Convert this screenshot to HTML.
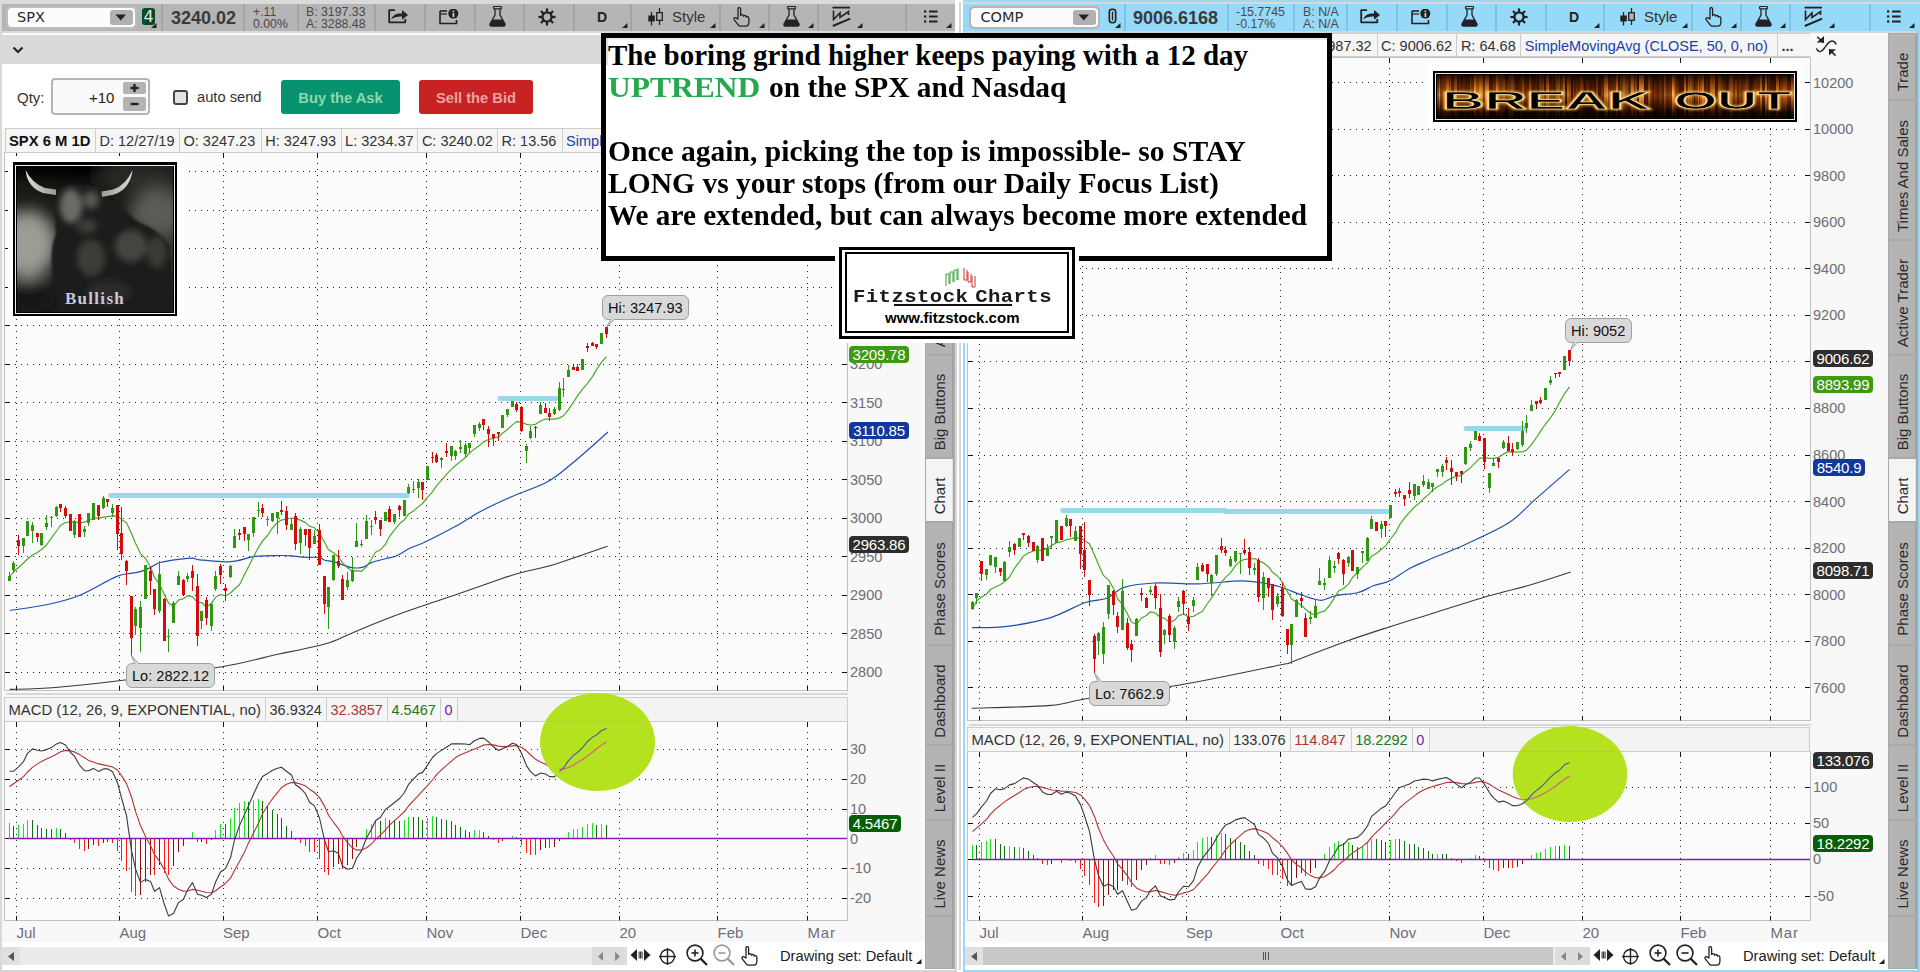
<!DOCTYPE html><html><head><meta charset="utf-8"><style>html,body{margin:0;padding:0;width:1920px;height:972px;overflow:hidden;background:#dadada;position:relative;font-family:"Liberation Sans", Arial, sans-serif;color:#333}div{box-sizing:border-box}</style></head><body>
<div style="position:absolute;left:0px;top:0px;width:957px;height:972px;background:#dadada"></div>
<div style="position:absolute;left:2px;top:4px;width:953px;height:27px;background:#b5b5b5"></div>
<div style="position:absolute;left:161px;top:4px;width:2px;height:27px;background:#a4a4a4"></div>
<div style="position:absolute;left:243px;top:4px;width:2px;height:27px;background:#a4a4a4"></div>
<div style="position:absolute;left:297px;top:4px;width:2px;height:27px;background:#a4a4a4"></div>
<div style="position:absolute;left:374px;top:4px;width:2px;height:27px;background:#a4a4a4"></div>
<div style="position:absolute;left:424px;top:4px;width:2px;height:27px;background:#a4a4a4"></div>
<div style="position:absolute;left:474px;top:4px;width:2px;height:27px;background:#a4a4a4"></div>
<div style="position:absolute;left:523px;top:4px;width:2px;height:27px;background:#a4a4a4"></div>
<div style="position:absolute;left:573px;top:4px;width:2px;height:27px;background:#a4a4a4"></div>
<div style="position:absolute;left:630px;top:4px;width:2px;height:27px;background:#a4a4a4"></div>
<div style="position:absolute;left:719px;top:4px;width:2px;height:27px;background:#a4a4a4"></div>
<div style="position:absolute;left:768px;top:4px;width:2px;height:27px;background:#a4a4a4"></div>
<div style="position:absolute;left:817px;top:4px;width:2px;height:27px;background:#a4a4a4"></div>
<div style="position:absolute;left:905px;top:4px;width:2px;height:27px;background:#a4a4a4"></div>
<div style="position:absolute;left:6px;top:6px;width:131px;height:23px;background:#bdbdbd;border-radius:5px"></div>
<div style="position:absolute;left:8px;top:8px;width:127px;height:19px;background:#fcfcfc;border-radius:4px"></div>
<div style="position:absolute;left:17px;top:8px;white-space:nowrap;font-family:'DejaVu Sans',sans-serif;font-size:14.5px;line-height:19px;color:#2a2a2a">SPX</div>
<div style="position:absolute;left:110px;top:10px;width:23px;height:15px;background:#b0b0b0;border-radius:3px"></div>
<svg style="position:absolute;left:115px;top:14px;" width="12" height="7" viewBox="0 0 12 7"><path d="M0.5 0.5 H11 L5.75 6.5 Z" fill="#222"/></svg>
<div style="position:absolute;left:142px;top:8px;width:13px;height:17px;background:#064a27;border-radius:3px"></div>
<div style="position:absolute;left:142px;top:8px;white-space:nowrap;width:13px;text-align:center;font-size:16px;line-height:18px;color:#e8e8e8;font-family:'DejaVu Sans',sans-serif">4</div>
<svg style="position:absolute;left:151px;top:23px;" width="6" height="5" viewBox="0 0 6 5"><path d="M5.5 0 V5 H0 Z" fill="#222"/></svg>
<div style="position:absolute;left:171px;top:7px;white-space:nowrap;font-size:18px;font-weight:bold;color:#3a3a3a;line-height:22px">3240.02</div>
<div style="position:absolute;left:253px;top:6px;white-space:nowrap;font-size:12.3px;line-height:12px;color:#4a4a4a">+.11<br>0.00%</div>
<div style="position:absolute;left:306px;top:6px;white-space:nowrap;font-size:12.3px;line-height:12px;color:#4a4a4a">B: 3197.33<br>A: 3288.48</div>
<svg style="position:absolute;left:388px;top:9px;" width="22" height="16" viewBox="0 0 22 16"><path d="M7 1.2 H1.2 V13.3 H17.3 V10" fill="none" stroke="#222" stroke-width="1.8" stroke-linejoin="round"/><path d="M3 10.5 C5 5.5 9 4.2 14 4.5 V1 L20 6 L14 10.8 V7.5 C10 7.2 6 8 3 10.5 Z" fill="#222"/></svg>
<svg style="position:absolute;left:439px;top:9px;" width="20" height="16" viewBox="0 0 20 16"><path d="M1 2 V14.5 H17.5 V11" fill="none" stroke="#222" stroke-width="1.6"/><path d="M1 2 H8" stroke="#222" stroke-width="1.6"/><path d="M1 5 H8" stroke="#222" stroke-width="1.2"/><circle cx="14.3" cy="4.6" r="5" fill="#222"/><rect x="13.6" y="4" width="1.6" height="4" fill="#ddd"/><rect x="13.6" y="1.6" width="1.6" height="1.5" fill="#ddd"/></svg>
<svg style="position:absolute;left:489px;top:6px;" width="17" height="21" viewBox="0 0 17 21"><rect x="4.5" y="0.5" width="8" height="2.4" rx="1" fill="none" stroke="#222" stroke-width="1.2"/><path d="M6 3 V9 L1 18 Q0.5 20 2.5 20 H14.5 Q16.5 20 16 18 L11 9 V3" fill="none" stroke="#222" stroke-width="1.3"/><path d="M3.6 13.5 H13.4 L16 18 Q16.5 20 14.5 20 H2.5 Q0.5 20 1 18 Z" fill="#222"/></svg>
<svg style="position:absolute;left:538px;top:8px;" width="18" height="18" viewBox="0 0 18 18"><line x1="13.00" y1="9.00" x2="17.60" y2="9.00" stroke="#222" stroke-width="2.2"/><line x1="11.83" y1="11.83" x2="15.08" y2="15.08" stroke="#222" stroke-width="2.2"/><line x1="9.00" y1="13.00" x2="9.00" y2="17.60" stroke="#222" stroke-width="2.2"/><line x1="6.17" y1="11.83" x2="2.92" y2="15.08" stroke="#222" stroke-width="2.2"/><line x1="5.00" y1="9.00" x2="0.40" y2="9.00" stroke="#222" stroke-width="2.2"/><line x1="6.17" y1="6.17" x2="2.92" y2="2.92" stroke="#222" stroke-width="2.2"/><line x1="9.00" y1="5.00" x2="9.00" y2="0.40" stroke="#222" stroke-width="2.2"/><line x1="11.83" y1="6.17" x2="15.08" y2="2.92" stroke="#222" stroke-width="2.2"/><circle cx="9" cy="9" r="4.6" fill="none" stroke="#222" stroke-width="2.4"/></svg>
<div style="position:absolute;left:597px;top:8px;white-space:nowrap;font-size:14px;font-weight:bold;color:#222;line-height:18px">D</div>
<svg style="position:absolute;left:622px;top:23px;" width="6" height="5" viewBox="0 0 6 5"><path d="M5.5 0 V5 H0 Z" fill="#222"/></svg>
<svg style="position:absolute;left:648px;top:8px;" width="15" height="18" viewBox="0 0 15 18"><line x1="3.5" y1="4" x2="3.5" y2="17.5" stroke="#222" stroke-width="1.3"/><rect x="0.3" y="7.5" width="6.5" height="6" fill="#222"/><line x1="11.5" y1="0" x2="11.5" y2="17" stroke="#222" stroke-width="1.3"/><rect x="8.7" y="4.7" width="5.6" height="7.6" fill="#b5b5b5" stroke="#222" stroke-width="1.3"/></svg>
<div style="position:absolute;left:672px;top:7px;white-space:nowrap;font-size:15px;color:#333;line-height:19px">Style</div>
<svg style="position:absolute;left:710px;top:23px;" width="6" height="5" viewBox="0 0 6 5"><path d="M5.5 0 V5 H0 Z" fill="#222"/></svg>
<svg style="position:absolute;left:733px;top:7px;" width="17" height="20" viewBox="0 0 17 20"><path d="M5 12 V2.2 Q5 0.6 6.3 0.6 Q7.6 0.6 7.6 2.2 V8.6 Q8 7.4 9.3 7.6 Q10.5 7.8 10.5 9.3 Q11 8.3 12.2 8.5 Q13.3 8.8 13.3 10.2 Q13.8 9.4 14.8 9.7 Q15.9 10.1 15.9 11.8 V15 Q15.9 19.2 12.5 19.2 H7.6 Q6 19.2 5 17.6 L1.3 12.8 Q0.5 11.6 1.6 10.9 Q2.7 10.3 3.6 11.3 Z" fill="none" stroke="#222" stroke-width="1.3" stroke-linejoin="round"/></svg>
<svg style="position:absolute;left:759px;top:23px;" width="6" height="5" viewBox="0 0 6 5"><path d="M5.5 0 V5 H0 Z" fill="#222"/></svg>
<svg style="position:absolute;left:783px;top:6px;" width="17" height="21" viewBox="0 0 17 21"><rect x="4.5" y="0.5" width="8" height="2.4" rx="1" fill="none" stroke="#222" stroke-width="1.2"/><path d="M6 3 V9 L1 18 Q0.5 20 2.5 20 H14.5 Q16.5 20 16 18 L11 9 V3" fill="none" stroke="#222" stroke-width="1.3"/><path d="M3.6 13.5 H13.4 L16 18 Q16.5 20 14.5 20 H2.5 Q0.5 20 1 18 Z" fill="#222"/></svg>
<svg style="position:absolute;left:808px;top:23px;" width="6" height="5" viewBox="0 0 6 5"><path d="M5.5 0 V5 H0 Z" fill="#222"/></svg>
<svg style="position:absolute;left:832px;top:6px;" width="19" height="21" viewBox="0 0 19 21"><line x1="0.5" y1="1.6" x2="18" y2="1.6" stroke="#222" stroke-width="1.8"/><path d="M1.5 4.5 V13.5 L8 7 V11.5 L16.5 5.5 V9" fill="none" stroke="#222" stroke-width="1.6"/><line x1="0.8" y1="20" x2="18.2" y2="12.7" stroke="#222" stroke-width="2"/></svg>
<svg style="position:absolute;left:857px;top:23px;" width="6" height="5" viewBox="0 0 6 5"><path d="M5.5 0 V5 H0 Z" fill="#222"/></svg>
<svg style="position:absolute;left:924px;top:10px;" width="14" height="13" viewBox="0 0 14 13"><rect x="0" y="0.3999999999999999" width="2.3" height="2.2" fill="#222"/><rect x="5" y="0.5" width="8.6" height="2" fill="#222"/><rect x="0" y="5.4" width="2.3" height="2.2" fill="#222"/><rect x="5" y="5.5" width="8.6" height="2" fill="#222"/><rect x="0" y="10.4" width="2.3" height="2.2" fill="#222"/><rect x="5" y="10.5" width="8.6" height="2" fill="#222"/></svg>
<svg style="position:absolute;left:946px;top:23px;" width="6" height="5" viewBox="0 0 6 5"><path d="M5.5 0 V5 H0 Z" fill="#222"/></svg>
<div style="position:absolute;left:2px;top:33px;width:955px;height:2px;background:#fafafa"></div>
<svg style="position:absolute;left:12px;top:46px;" width="12" height="8" viewBox="0 0 12 8"><path d="M1.5 1.5 L6 6 L10.5 1.5" fill="none" stroke="#222" stroke-width="2.2"/></svg>
<div style="position:absolute;left:2px;top:64px;width:955px;height:906px;background:#ffffff"></div>
<div style="position:absolute;left:2px;top:128px;width:923px;height:817px;background:#f8f8f8"></div>
<div style="position:absolute;left:955px;top:0px;width:8px;height:972px;background:#ffffff"></div>
<div style="position:absolute;left:955px;top:33px;width:2px;height:937px;background:#d6d6d6"></div>
<div style="position:absolute;left:959px;top:2px;width:2px;height:968px;background:#d6d6d6"></div>
<div style="position:absolute;left:963px;top:0px;width:957px;height:972px;background:#97d9f8"></div>
<div style="position:absolute;left:963px;top:2px;width:957px;height:1.5px;background:#dbd7d3"></div>
<div style="position:absolute;left:1124px;top:4px;width:2px;height:27px;background:#7fc3e0"></div>
<div style="position:absolute;left:1227px;top:4px;width:2px;height:27px;background:#7fc3e0"></div>
<div style="position:absolute;left:1293px;top:4px;width:2px;height:27px;background:#7fc3e0"></div>
<div style="position:absolute;left:1346px;top:4px;width:2px;height:27px;background:#7fc3e0"></div>
<div style="position:absolute;left:1396px;top:4px;width:2px;height:27px;background:#7fc3e0"></div>
<div style="position:absolute;left:1446px;top:4px;width:2px;height:27px;background:#7fc3e0"></div>
<div style="position:absolute;left:1495px;top:4px;width:2px;height:27px;background:#7fc3e0"></div>
<div style="position:absolute;left:1545px;top:4px;width:2px;height:27px;background:#7fc3e0"></div>
<div style="position:absolute;left:1603px;top:4px;width:2px;height:27px;background:#7fc3e0"></div>
<div style="position:absolute;left:1691px;top:4px;width:2px;height:27px;background:#7fc3e0"></div>
<div style="position:absolute;left:1740px;top:4px;width:2px;height:27px;background:#7fc3e0"></div>
<div style="position:absolute;left:1789px;top:4px;width:2px;height:27px;background:#7fc3e0"></div>
<div style="position:absolute;left:1869px;top:4px;width:2px;height:27px;background:#7fc3e0"></div>
<div style="position:absolute;left:965px;top:31px;width:952px;height:2px;background:#d9d5d1"></div>
<div style="position:absolute;left:965px;top:33px;width:952px;height:937px;background:#ffffff"></div>
<div style="position:absolute;left:965px;top:33px;width:923px;height:912px;background:#f8f8f8"></div>
<div style="position:absolute;left:969px;top:6px;width:131px;height:23px;background:#b6b3b0;border-radius:5px"></div>
<div style="position:absolute;left:971px;top:8px;width:127px;height:19px;background:#fcfcfc;border-radius:4px"></div>
<div style="position:absolute;left:980.5px;top:8px;white-space:nowrap;font-family:'DejaVu Sans',sans-serif;font-size:14.5px;line-height:19px;color:#2a2a2a">COMP</div>
<div style="position:absolute;left:1073px;top:10px;width:23px;height:15px;background:#b0b0b0;border-radius:3px"></div>
<svg style="position:absolute;left:1078px;top:14px;" width="12" height="7" viewBox="0 0 12 7"><path d="M0.5 0.5 H11 L5.75 6.5 Z" fill="#222"/></svg>
<svg style="position:absolute;left:1108px;top:8px;" width="9" height="16" viewBox="0 0 9 16"><rect x="1.3" y="1.3" width="6.4" height="13.4" rx="2.6" fill="#a8c8e4" stroke="#222" stroke-width="1.6"/><line x1="4.5" y1="3.5" x2="4.5" y2="12.5" stroke="#222" stroke-width="1.3"/></svg>
<svg style="position:absolute;left:1115px;top:23px;" width="6" height="5" viewBox="0 0 6 5"><path d="M5.5 0 V5 H0 Z" fill="#222"/></svg>
<div style="position:absolute;left:1133px;top:6px;white-space:nowrap;font-size:18px;font-weight:bold;color:#3a3a3a;line-height:24px">9006.6168</div>
<div style="position:absolute;left:1236px;top:6px;white-space:nowrap;font-size:12.4px;line-height:12px;color:#4a4a4a">-15.7745<br>-0.17%</div>
<div style="position:absolute;left:1303px;top:6px;white-space:nowrap;font-size:12.4px;line-height:12px;color:#4a4a4a">B: N/A<br>A: N/A</div>
<svg style="position:absolute;left:1360px;top:9px;" width="22" height="16" viewBox="0 0 22 16"><path d="M7 1.2 H1.2 V13.3 H17.3 V10" fill="none" stroke="#222" stroke-width="1.8" stroke-linejoin="round"/><path d="M3 10.5 C5 5.5 9 4.2 14 4.5 V1 L20 6 L14 10.8 V7.5 C10 7.2 6 8 3 10.5 Z" fill="#222"/></svg>
<svg style="position:absolute;left:1411px;top:9px;" width="20" height="16" viewBox="0 0 20 16"><path d="M1 2 V14.5 H17.5 V11" fill="none" stroke="#222" stroke-width="1.6"/><path d="M1 2 H8" stroke="#222" stroke-width="1.6"/><path d="M1 5 H8" stroke="#222" stroke-width="1.2"/><circle cx="14.3" cy="4.6" r="5" fill="#222"/><rect x="13.6" y="4" width="1.6" height="4" fill="#ddd"/><rect x="13.6" y="1.6" width="1.6" height="1.5" fill="#ddd"/></svg>
<svg style="position:absolute;left:1461px;top:6px;" width="17" height="21" viewBox="0 0 17 21"><rect x="4.5" y="0.5" width="8" height="2.4" rx="1" fill="none" stroke="#222" stroke-width="1.2"/><path d="M6 3 V9 L1 18 Q0.5 20 2.5 20 H14.5 Q16.5 20 16 18 L11 9 V3" fill="none" stroke="#222" stroke-width="1.3"/><path d="M3.6 13.5 H13.4 L16 18 Q16.5 20 14.5 20 H2.5 Q0.5 20 1 18 Z" fill="#222"/></svg>
<svg style="position:absolute;left:1510px;top:8px;" width="18" height="18" viewBox="0 0 18 18"><line x1="13.00" y1="9.00" x2="17.60" y2="9.00" stroke="#222" stroke-width="2.2"/><line x1="11.83" y1="11.83" x2="15.08" y2="15.08" stroke="#222" stroke-width="2.2"/><line x1="9.00" y1="13.00" x2="9.00" y2="17.60" stroke="#222" stroke-width="2.2"/><line x1="6.17" y1="11.83" x2="2.92" y2="15.08" stroke="#222" stroke-width="2.2"/><line x1="5.00" y1="9.00" x2="0.40" y2="9.00" stroke="#222" stroke-width="2.2"/><line x1="6.17" y1="6.17" x2="2.92" y2="2.92" stroke="#222" stroke-width="2.2"/><line x1="9.00" y1="5.00" x2="9.00" y2="0.40" stroke="#222" stroke-width="2.2"/><line x1="11.83" y1="6.17" x2="15.08" y2="2.92" stroke="#222" stroke-width="2.2"/><circle cx="9" cy="9" r="4.6" fill="none" stroke="#222" stroke-width="2.4"/></svg>
<div style="position:absolute;left:1569px;top:8px;white-space:nowrap;font-size:14px;font-weight:bold;color:#222;line-height:18px">D</div>
<svg style="position:absolute;left:1594px;top:23px;" width="6" height="5" viewBox="0 0 6 5"><path d="M5.5 0 V5 H0 Z" fill="#222"/></svg>
<svg style="position:absolute;left:1620px;top:8px;" width="15" height="18" viewBox="0 0 15 18"><line x1="3.5" y1="4" x2="3.5" y2="17.5" stroke="#222" stroke-width="1.3"/><rect x="0.3" y="7.5" width="6.5" height="6" fill="#222"/><line x1="11.5" y1="0" x2="11.5" y2="17" stroke="#222" stroke-width="1.3"/><rect x="8.7" y="4.7" width="5.6" height="7.6" fill="#b5b5b5" stroke="#222" stroke-width="1.3"/></svg>
<div style="position:absolute;left:1644px;top:7px;white-space:nowrap;font-size:15px;color:#333;line-height:19px">Style</div>
<svg style="position:absolute;left:1682px;top:23px;" width="6" height="5" viewBox="0 0 6 5"><path d="M5.5 0 V5 H0 Z" fill="#222"/></svg>
<svg style="position:absolute;left:1705px;top:7px;" width="17" height="20" viewBox="0 0 17 20"><path d="M5 12 V2.2 Q5 0.6 6.3 0.6 Q7.6 0.6 7.6 2.2 V8.6 Q8 7.4 9.3 7.6 Q10.5 7.8 10.5 9.3 Q11 8.3 12.2 8.5 Q13.3 8.8 13.3 10.2 Q13.8 9.4 14.8 9.7 Q15.9 10.1 15.9 11.8 V15 Q15.9 19.2 12.5 19.2 H7.6 Q6 19.2 5 17.6 L1.3 12.8 Q0.5 11.6 1.6 10.9 Q2.7 10.3 3.6 11.3 Z" fill="none" stroke="#222" stroke-width="1.3" stroke-linejoin="round"/></svg>
<svg style="position:absolute;left:1731px;top:23px;" width="6" height="5" viewBox="0 0 6 5"><path d="M5.5 0 V5 H0 Z" fill="#222"/></svg>
<svg style="position:absolute;left:1755px;top:6px;" width="17" height="21" viewBox="0 0 17 21"><rect x="4.5" y="0.5" width="8" height="2.4" rx="1" fill="none" stroke="#222" stroke-width="1.2"/><path d="M6 3 V9 L1 18 Q0.5 20 2.5 20 H14.5 Q16.5 20 16 18 L11 9 V3" fill="none" stroke="#222" stroke-width="1.3"/><path d="M3.6 13.5 H13.4 L16 18 Q16.5 20 14.5 20 H2.5 Q0.5 20 1 18 Z" fill="#222"/></svg>
<svg style="position:absolute;left:1780px;top:23px;" width="6" height="5" viewBox="0 0 6 5"><path d="M5.5 0 V5 H0 Z" fill="#222"/></svg>
<svg style="position:absolute;left:1804px;top:6px;" width="19" height="21" viewBox="0 0 19 21"><line x1="0.5" y1="1.6" x2="18" y2="1.6" stroke="#222" stroke-width="1.8"/><path d="M1.5 4.5 V13.5 L8 7 V11.5 L16.5 5.5 V9" fill="none" stroke="#222" stroke-width="1.6"/><line x1="0.8" y1="20" x2="18.2" y2="12.7" stroke="#222" stroke-width="2"/></svg>
<svg style="position:absolute;left:1829px;top:23px;" width="6" height="5" viewBox="0 0 6 5"><path d="M5.5 0 V5 H0 Z" fill="#222"/></svg>
<svg style="position:absolute;left:1887px;top:10px;" width="14" height="13" viewBox="0 0 14 13"><rect x="0" y="0.3999999999999999" width="2.3" height="2.2" fill="#222"/><rect x="5" y="0.5" width="8.6" height="2" fill="#222"/><rect x="0" y="5.4" width="2.3" height="2.2" fill="#222"/><rect x="5" y="5.5" width="8.6" height="2" fill="#222"/><rect x="0" y="10.4" width="2.3" height="2.2" fill="#222"/><rect x="5" y="10.5" width="8.6" height="2" fill="#222"/></svg>
<svg style="position:absolute;left:1909px;top:23px;" width="6" height="5" viewBox="0 0 6 5"><path d="M5.5 0 V5 H0 Z" fill="#222"/></svg>
<div style="position:absolute;left:6px;top:693px;width:842px;height:2px;background:#d8d8d8"></div>
<div style="position:absolute;left:969px;top:724px;width:842px;height:2px;background:#d8d8d8"></div>
<svg style="position:absolute;left:0px;top:0" width="957" height="972"><rect x="4.5" y="152.5" width="843.0" height="538.0" fill="#fbfbfb" stroke="#c2c2c2" stroke-width="1"/><rect x="4.5" y="721.5" width="843.0" height="199.0" fill="#fbfbfb" stroke="#c2c2c2" stroke-width="1"/><line x1="15" y1="171.5" x2="835" y2="171.5" stroke="#222" stroke-width="1" stroke-dasharray="1 5"/><line x1="5" y1="171.5" x2="10" y2="171.5" stroke="#111" stroke-width="1"/><line x1="842" y1="171.5" x2="847" y2="171.5" stroke="#111" stroke-width="1"/><line x1="15" y1="210.5" x2="835" y2="210.5" stroke="#222" stroke-width="1" stroke-dasharray="1 5"/><line x1="5" y1="210.5" x2="10" y2="210.5" stroke="#111" stroke-width="1"/><line x1="842" y1="210.5" x2="847" y2="210.5" stroke="#111" stroke-width="1"/><line x1="15" y1="248.5" x2="835" y2="248.5" stroke="#222" stroke-width="1" stroke-dasharray="1 5"/><line x1="5" y1="248.5" x2="10" y2="248.5" stroke="#111" stroke-width="1"/><line x1="842" y1="248.5" x2="847" y2="248.5" stroke="#111" stroke-width="1"/><line x1="15" y1="287.5" x2="835" y2="287.5" stroke="#222" stroke-width="1" stroke-dasharray="1 5"/><line x1="5" y1="287.5" x2="10" y2="287.5" stroke="#111" stroke-width="1"/><line x1="842" y1="287.5" x2="847" y2="287.5" stroke="#111" stroke-width="1"/><line x1="15" y1="325.5" x2="835" y2="325.5" stroke="#222" stroke-width="1" stroke-dasharray="1 5"/><line x1="5" y1="325.5" x2="10" y2="325.5" stroke="#111" stroke-width="1"/><line x1="842" y1="325.5" x2="847" y2="325.5" stroke="#111" stroke-width="1"/><line x1="15" y1="364.5" x2="835" y2="364.5" stroke="#222" stroke-width="1" stroke-dasharray="1 5"/><line x1="5" y1="364.5" x2="10" y2="364.5" stroke="#111" stroke-width="1"/><line x1="842" y1="364.5" x2="847" y2="364.5" stroke="#111" stroke-width="1"/><line x1="15" y1="402.5" x2="835" y2="402.5" stroke="#222" stroke-width="1" stroke-dasharray="1 5"/><line x1="5" y1="402.5" x2="10" y2="402.5" stroke="#111" stroke-width="1"/><line x1="842" y1="402.5" x2="847" y2="402.5" stroke="#111" stroke-width="1"/><line x1="15" y1="441.5" x2="835" y2="441.5" stroke="#222" stroke-width="1" stroke-dasharray="1 5"/><line x1="5" y1="441.5" x2="10" y2="441.5" stroke="#111" stroke-width="1"/><line x1="842" y1="441.5" x2="847" y2="441.5" stroke="#111" stroke-width="1"/><line x1="15" y1="479.5" x2="835" y2="479.5" stroke="#222" stroke-width="1" stroke-dasharray="1 5"/><line x1="5" y1="479.5" x2="10" y2="479.5" stroke="#111" stroke-width="1"/><line x1="842" y1="479.5" x2="847" y2="479.5" stroke="#111" stroke-width="1"/><line x1="15" y1="518.5" x2="835" y2="518.5" stroke="#222" stroke-width="1" stroke-dasharray="1 5"/><line x1="5" y1="518.5" x2="10" y2="518.5" stroke="#111" stroke-width="1"/><line x1="842" y1="518.5" x2="847" y2="518.5" stroke="#111" stroke-width="1"/><line x1="15" y1="556.5" x2="835" y2="556.5" stroke="#222" stroke-width="1" stroke-dasharray="1 5"/><line x1="5" y1="556.5" x2="10" y2="556.5" stroke="#111" stroke-width="1"/><line x1="842" y1="556.5" x2="847" y2="556.5" stroke="#111" stroke-width="1"/><line x1="15" y1="595.5" x2="835" y2="595.5" stroke="#222" stroke-width="1" stroke-dasharray="1 5"/><line x1="5" y1="595.5" x2="10" y2="595.5" stroke="#111" stroke-width="1"/><line x1="842" y1="595.5" x2="847" y2="595.5" stroke="#111" stroke-width="1"/><line x1="15" y1="633.5" x2="835" y2="633.5" stroke="#222" stroke-width="1" stroke-dasharray="1 5"/><line x1="5" y1="633.5" x2="10" y2="633.5" stroke="#111" stroke-width="1"/><line x1="842" y1="633.5" x2="847" y2="633.5" stroke="#111" stroke-width="1"/><line x1="15" y1="672.5" x2="835" y2="672.5" stroke="#222" stroke-width="1" stroke-dasharray="1 5"/><line x1="5" y1="672.5" x2="10" y2="672.5" stroke="#111" stroke-width="1"/><line x1="842" y1="672.5" x2="847" y2="672.5" stroke="#111" stroke-width="1"/><line x1="15" y1="749.5" x2="835" y2="749.5" stroke="#222" stroke-width="1" stroke-dasharray="1 5"/><line x1="842" y1="749.5" x2="847" y2="749.5" stroke="#111" stroke-width="1"/><line x1="5" y1="749.5" x2="10" y2="749.5" stroke="#111" stroke-width="1"/><line x1="15" y1="779.5" x2="835" y2="779.5" stroke="#222" stroke-width="1" stroke-dasharray="1 5"/><line x1="842" y1="779.5" x2="847" y2="779.5" stroke="#111" stroke-width="1"/><line x1="5" y1="779.5" x2="10" y2="779.5" stroke="#111" stroke-width="1"/><line x1="15" y1="809.5" x2="835" y2="809.5" stroke="#222" stroke-width="1" stroke-dasharray="1 5"/><line x1="842" y1="809.5" x2="847" y2="809.5" stroke="#111" stroke-width="1"/><line x1="5" y1="809.5" x2="10" y2="809.5" stroke="#111" stroke-width="1"/><line x1="842" y1="838.5" x2="847" y2="838.5" stroke="#111" stroke-width="1"/><line x1="5" y1="838.5" x2="10" y2="838.5" stroke="#111" stroke-width="1"/><line x1="15" y1="868.5" x2="835" y2="868.5" stroke="#222" stroke-width="1" stroke-dasharray="1 5"/><line x1="842" y1="868.5" x2="847" y2="868.5" stroke="#111" stroke-width="1"/><line x1="5" y1="868.5" x2="10" y2="868.5" stroke="#111" stroke-width="1"/><line x1="15" y1="898.5" x2="835" y2="898.5" stroke="#222" stroke-width="1" stroke-dasharray="1 5"/><line x1="842" y1="898.5" x2="847" y2="898.5" stroke="#111" stroke-width="1"/><line x1="5" y1="898.5" x2="10" y2="898.5" stroke="#111" stroke-width="1"/><line x1="16.5" y1="157.0" x2="16.5" y2="685.5" stroke="#222" stroke-width="1" stroke-dasharray="1 5"/><line x1="16.5" y1="726.0" x2="16.5" y2="915.5" stroke="#222" stroke-width="1" stroke-dasharray="1 5"/><line x1="16.5" y1="153.0" x2="16.5" y2="157.0" stroke="#111" stroke-width="1"/><line x1="16.5" y1="686.0" x2="16.5" y2="690.5" stroke="#111" stroke-width="1"/><line x1="16.5" y1="722.0" x2="16.5" y2="726.0" stroke="#111" stroke-width="1"/><line x1="16.5" y1="916.0" x2="16.5" y2="920.5" stroke="#111" stroke-width="1"/><line x1="119.5" y1="157.0" x2="119.5" y2="685.5" stroke="#222" stroke-width="1" stroke-dasharray="1 5"/><line x1="119.5" y1="726.0" x2="119.5" y2="915.5" stroke="#222" stroke-width="1" stroke-dasharray="1 5"/><line x1="119.5" y1="153.0" x2="119.5" y2="157.0" stroke="#111" stroke-width="1"/><line x1="119.5" y1="686.0" x2="119.5" y2="690.5" stroke="#111" stroke-width="1"/><line x1="119.5" y1="722.0" x2="119.5" y2="726.0" stroke="#111" stroke-width="1"/><line x1="119.5" y1="916.0" x2="119.5" y2="920.5" stroke="#111" stroke-width="1"/><line x1="223.5" y1="157.0" x2="223.5" y2="685.5" stroke="#222" stroke-width="1" stroke-dasharray="1 5"/><line x1="223.5" y1="726.0" x2="223.5" y2="915.5" stroke="#222" stroke-width="1" stroke-dasharray="1 5"/><line x1="223.5" y1="153.0" x2="223.5" y2="157.0" stroke="#111" stroke-width="1"/><line x1="223.5" y1="686.0" x2="223.5" y2="690.5" stroke="#111" stroke-width="1"/><line x1="223.5" y1="722.0" x2="223.5" y2="726.0" stroke="#111" stroke-width="1"/><line x1="223.5" y1="916.0" x2="223.5" y2="920.5" stroke="#111" stroke-width="1"/><line x1="317.5" y1="157.0" x2="317.5" y2="685.5" stroke="#222" stroke-width="1" stroke-dasharray="1 5"/><line x1="317.5" y1="726.0" x2="317.5" y2="915.5" stroke="#222" stroke-width="1" stroke-dasharray="1 5"/><line x1="317.5" y1="153.0" x2="317.5" y2="157.0" stroke="#111" stroke-width="1"/><line x1="317.5" y1="686.0" x2="317.5" y2="690.5" stroke="#111" stroke-width="1"/><line x1="317.5" y1="722.0" x2="317.5" y2="726.0" stroke="#111" stroke-width="1"/><line x1="317.5" y1="916.0" x2="317.5" y2="920.5" stroke="#111" stroke-width="1"/><line x1="426.5" y1="157.0" x2="426.5" y2="685.5" stroke="#222" stroke-width="1" stroke-dasharray="1 5"/><line x1="426.5" y1="726.0" x2="426.5" y2="915.5" stroke="#222" stroke-width="1" stroke-dasharray="1 5"/><line x1="426.5" y1="153.0" x2="426.5" y2="157.0" stroke="#111" stroke-width="1"/><line x1="426.5" y1="686.0" x2="426.5" y2="690.5" stroke="#111" stroke-width="1"/><line x1="426.5" y1="722.0" x2="426.5" y2="726.0" stroke="#111" stroke-width="1"/><line x1="426.5" y1="916.0" x2="426.5" y2="920.5" stroke="#111" stroke-width="1"/><line x1="520.5" y1="157.0" x2="520.5" y2="685.5" stroke="#222" stroke-width="1" stroke-dasharray="1 5"/><line x1="520.5" y1="726.0" x2="520.5" y2="915.5" stroke="#222" stroke-width="1" stroke-dasharray="1 5"/><line x1="520.5" y1="153.0" x2="520.5" y2="157.0" stroke="#111" stroke-width="1"/><line x1="520.5" y1="686.0" x2="520.5" y2="690.5" stroke="#111" stroke-width="1"/><line x1="520.5" y1="722.0" x2="520.5" y2="726.0" stroke="#111" stroke-width="1"/><line x1="520.5" y1="916.0" x2="520.5" y2="920.5" stroke="#111" stroke-width="1"/><line x1="619.5" y1="157.0" x2="619.5" y2="685.5" stroke="#222" stroke-width="1" stroke-dasharray="1 5"/><line x1="619.5" y1="726.0" x2="619.5" y2="915.5" stroke="#222" stroke-width="1" stroke-dasharray="1 5"/><line x1="619.5" y1="153.0" x2="619.5" y2="157.0" stroke="#111" stroke-width="1"/><line x1="619.5" y1="686.0" x2="619.5" y2="690.5" stroke="#111" stroke-width="1"/><line x1="619.5" y1="722.0" x2="619.5" y2="726.0" stroke="#111" stroke-width="1"/><line x1="619.5" y1="916.0" x2="619.5" y2="920.5" stroke="#111" stroke-width="1"/><line x1="717.5" y1="157.0" x2="717.5" y2="685.5" stroke="#222" stroke-width="1" stroke-dasharray="1 5"/><line x1="717.5" y1="726.0" x2="717.5" y2="915.5" stroke="#222" stroke-width="1" stroke-dasharray="1 5"/><line x1="717.5" y1="153.0" x2="717.5" y2="157.0" stroke="#111" stroke-width="1"/><line x1="717.5" y1="686.0" x2="717.5" y2="690.5" stroke="#111" stroke-width="1"/><line x1="717.5" y1="722.0" x2="717.5" y2="726.0" stroke="#111" stroke-width="1"/><line x1="717.5" y1="916.0" x2="717.5" y2="920.5" stroke="#111" stroke-width="1"/><line x1="807.5" y1="157.0" x2="807.5" y2="685.5" stroke="#222" stroke-width="1" stroke-dasharray="1 5"/><line x1="807.5" y1="726.0" x2="807.5" y2="915.5" stroke="#222" stroke-width="1" stroke-dasharray="1 5"/><line x1="807.5" y1="153.0" x2="807.5" y2="157.0" stroke="#111" stroke-width="1"/><line x1="807.5" y1="686.0" x2="807.5" y2="690.5" stroke="#111" stroke-width="1"/><line x1="807.5" y1="722.0" x2="807.5" y2="726.0" stroke="#111" stroke-width="1"/><line x1="807.5" y1="916.0" x2="807.5" y2="920.5" stroke="#111" stroke-width="1"/><path d="M9.7,689.4 C17.4,689.1 36.4,689.1 55.6,687.5 C74.8,685.9 97.3,683.5 125.0,680.0 C152.7,676.5 196.5,671.0 222.0,666.7 C247.5,662.4 264.8,657.0 277.8,654.2 C290.8,651.4 291.3,651.7 300.0,649.7 C308.7,647.8 320.8,645.5 330.0,642.5 C339.2,639.5 345.0,635.9 355.0,631.7 C365.0,627.5 379.2,621.7 390.0,617.5 C400.8,613.3 408.3,610.7 420.0,606.7 C431.7,602.7 446.7,597.9 460.0,593.3 C473.3,588.7 489.7,582.7 500.0,579.2 C510.3,575.7 513.4,574.7 521.7,572.5 C530.0,570.3 540.3,568.6 550.0,565.8 C559.7,563.0 570.4,559.1 580.0,555.8 C589.6,552.5 602.9,547.8 607.5,546.2" fill="none" stroke="#3a3a3a" stroke-width="1.1"/><path d="M9.7,610.5 C16.4,609.4 38.2,606.6 50.0,604.0 C61.8,601.4 69.4,599.6 80.5,595.0 C91.6,590.4 108.1,580.0 116.7,576.4 C125.3,572.8 127.9,574.0 132.0,573.2 C136.1,572.4 138.3,572.4 141.4,571.4 C144.5,570.4 147.7,568.9 150.8,567.4 C153.9,565.9 155.4,563.8 160.1,562.5 C164.8,561.2 173.4,560.1 178.9,559.4 C184.4,558.7 189.4,558.0 192.9,558.1 C196.4,558.2 193.7,559.2 200.0,559.8 C206.3,560.4 221.2,562.3 230.5,561.7 C239.8,561.1 247.3,557.4 255.5,556.4 C263.7,555.4 273.9,555.6 279.9,555.5 C285.9,555.4 287.6,555.5 291.4,555.8 C295.2,556.1 298.2,556.9 302.9,557.2 C307.6,557.5 315.8,557.0 319.4,557.5 C323.0,558.0 321.6,559.2 324.3,560.0 C327.0,560.8 331.2,561.1 335.8,562.4 C340.4,563.7 347.1,566.8 351.6,567.6 C356.2,568.4 359.8,567.9 363.1,567.1 C366.4,566.3 367.5,564.0 371.3,562.6 C375.1,561.2 382.1,559.6 386.2,558.5 C390.3,557.4 391.9,557.8 396.0,556.0 C400.1,554.2 406.0,550.1 410.8,547.8 C415.6,545.5 417.1,545.8 425.0,542.0 C432.9,538.2 448.8,530.0 458.0,525.0 C467.2,520.0 471.2,516.4 480.0,511.7 C488.8,507.0 499.6,502.0 510.9,497.0 C522.2,492.0 537.7,487.2 548.0,481.5 C558.3,475.8 562.6,471.2 572.6,463.0 C582.6,454.8 602.1,437.2 608.0,432.0" fill="none" stroke="#1f4fae" stroke-width="1.2"/><polyline points="9.5,577.0 13.5,572.0 18.5,567.5 23.5,563.0 27.5,559.0 32.5,555.0 37.5,552.5 41.5,549.5 46.5,545.0 51.5,537.9 56.5,531.0 60.5,525.5 65.5,522.5 70.5,521.8 74.5,521.8 79.5,522.9 84.5,522.2 88.5,520.2 93.5,518.2 98.5,518.1 103.5,517.2 107.5,516.6 112.5,515.8 117.5,516.1 121.5,519.4 126.5,522.8 131.5,533.6 135.5,543.2 140.5,553.6 145.5,558.5 150.5,566.8 154.5,577.5 159.5,584.1 164.5,594.9 168.5,603.0 173.5,606.2 178.5,600.1 183.5,598.7 187.5,595.6 192.5,596.9 197.5,602.3 201.5,602.5 206.5,607.0 211.5,603.2 215.5,597.3 220.5,594.5 225.5,595.9 230.5,593.0 234.5,589.0 239.5,584.7 244.5,574.5 248.5,566.9 253.5,556.8 258.5,547.4 262.5,541.1 267.5,535.5 272.5,527.8 277.5,522.5 281.5,520.1 286.5,519.0 291.5,518.0 295.5,518.9 300.5,520.1 305.5,522.6 309.5,526.1 314.5,527.8 319.5,533.0 324.5,542.2 328.5,549.7 333.5,552.7 338.5,557.0 342.5,562.6 347.5,567.8 352.5,571.2 356.5,570.6 361.5,571.3 366.5,566.9 371.5,559.0 375.5,552.3 380.5,549.7 385.5,544.2 389.5,536.4 394.5,529.8 399.5,523.8 404.5,519.7 408.5,514.1 413.5,510.9 418.5,506.6 422.5,503.5 427.5,497.3 432.5,491.9 436.5,485.9 441.5,480.2 446.5,474.4 451.5,469.1 455.5,465.5 460.5,461.4 465.5,457.6 469.5,453.0 474.5,448.9 479.5,445.5 483.5,441.9 488.5,439.5 493.5,438.1 498.5,436.8 502.5,433.2 507.5,429.4 512.5,424.9 516.5,421.6 521.5,422.2 526.5,424.4 530.5,425.0 535.5,424.3 540.5,421.0 545.5,419.0 549.5,419.1 554.5,419.1 559.5,417.9 563.5,415.7 568.5,409.7 573.5,402.0 577.5,395.9 582.5,389.1 587.5,383.4 592.5,376.6 596.5,369.6 601.5,362.1 606.5,356.6" fill="none" stroke="#4aaa2a" stroke-width="1.2" stroke-linejoin="round" /><line x1="110.8" y1="495.5" x2="407.2" y2="495.5" stroke="#98d8ea" stroke-width="5" stroke-linecap="round"/><line x1="500" y1="398.5" x2="556.1" y2="398.5" stroke="#98d8ea" stroke-width="5" stroke-linecap="round"/><g fill="#2f9612" shape-rendering="crispEdges"><rect x="9" y="572" width="1" height="9"/><rect x="8" y="576" width="3" height="5"/><rect x="13" y="561" width="1" height="12"/><rect x="12" y="563" width="3" height="7"/><rect x="23" y="538" width="1" height="15"/><rect x="22" y="538" width="3" height="8"/><rect x="27" y="521" width="1" height="15"/><rect x="26" y="521" width="3" height="15"/><rect x="32" y="522" width="1" height="21"/><rect x="31" y="525" width="3" height="6"/><rect x="41" y="533" width="1" height="13"/><rect x="40" y="533" width="3" height="12"/><rect x="46" y="515" width="1" height="15"/><rect x="45" y="523" width="3" height="4"/><rect x="51" y="516" width="1" height="11"/><rect x="50" y="517" width="3" height="1"/><rect x="56" y="506" width="1" height="11"/><rect x="55" y="507" width="3" height="9"/><rect x="74" y="520" width="1" height="18"/><rect x="73" y="521" width="3" height="14"/><rect x="84" y="526" width="1" height="11"/><rect x="83" y="529" width="3" height="3"/><rect x="88" y="513" width="1" height="13"/><rect x="87" y="513" width="3" height="10"/><rect x="93" y="503" width="1" height="17"/><rect x="92" y="503" width="3" height="17"/><rect x="103" y="496" width="1" height="13"/><rect x="102" y="498" width="3" height="10"/><rect x="112" y="504" width="1" height="13"/><rect x="111" y="508" width="3" height="5"/><rect x="135" y="607" width="1" height="28"/><rect x="134" y="609" width="3" height="17"/><rect x="140" y="601" width="1" height="51"/><rect x="139" y="607" width="3" height="21"/><rect x="145" y="565" width="1" height="34"/><rect x="144" y="565" width="3" height="34"/><rect x="159" y="561" width="1" height="52"/><rect x="158" y="574" width="3" height="37"/><rect x="168" y="629" width="1" height="23"/><rect x="167" y="636" width="3" height="1"/><rect x="173" y="601" width="1" height="22"/><rect x="172" y="603" width="3" height="20"/><rect x="178" y="571" width="1" height="14"/><rect x="177" y="576" width="3" height="9"/><rect x="187" y="573" width="1" height="9"/><rect x="186" y="576" width="3" height="3"/><rect x="201" y="611" width="1" height="18"/><rect x="200" y="611" width="3" height="10"/><rect x="211" y="603" width="1" height="28"/><rect x="210" y="604" width="3" height="22"/><rect x="215" y="571" width="1" height="20"/><rect x="214" y="576" width="3" height="13"/><rect x="230" y="565" width="1" height="13"/><rect x="229" y="566" width="3" height="11"/><rect x="234" y="529" width="1" height="19"/><rect x="233" y="536" width="3" height="12"/><rect x="248" y="534" width="1" height="17"/><rect x="247" y="534" width="3" height="6"/><rect x="253" y="517" width="1" height="20"/><rect x="252" y="517" width="3" height="16"/><rect x="258" y="502" width="1" height="15"/><rect x="257" y="510" width="3" height="1"/><rect x="267" y="516" width="1" height="10"/><rect x="266" y="519" width="3" height="1"/><rect x="272" y="513" width="1" height="9"/><rect x="271" y="513" width="3" height="8"/><rect x="277" y="512" width="1" height="22"/><rect x="276" y="512" width="3" height="6"/><rect x="291" y="518" width="1" height="12"/><rect x="290" y="524" width="3" height="6"/><rect x="300" y="527" width="1" height="27"/><rect x="299" y="529" width="3" height="14"/><rect x="314" y="530" width="1" height="14"/><rect x="313" y="536" width="3" height="8"/><rect x="328" y="587" width="1" height="42"/><rect x="327" y="587" width="3" height="20"/><rect x="333" y="555" width="1" height="26"/><rect x="332" y="555" width="3" height="25"/><rect x="347" y="572" width="1" height="18"/><rect x="346" y="580" width="3" height="7"/><rect x="352" y="557" width="1" height="25"/><rect x="351" y="570" width="3" height="11"/><rect x="356" y="523" width="1" height="24"/><rect x="355" y="541" width="3" height="6"/><rect x="361" y="540" width="1" height="7"/><rect x="360" y="544" width="3" height="1"/><rect x="366" y="515" width="1" height="24"/><rect x="365" y="521" width="3" height="18"/><rect x="371" y="520" width="1" height="15"/><rect x="370" y="526" width="3" height="1"/><rect x="385" y="512" width="1" height="9"/><rect x="384" y="512" width="3" height="9"/><rect x="394" y="514" width="1" height="10"/><rect x="393" y="514" width="3" height="8"/><rect x="404" y="500" width="1" height="16"/><rect x="403" y="500" width="3" height="16"/><rect x="408" y="484" width="1" height="10"/><rect x="407" y="487" width="3" height="6"/><rect x="413" y="481" width="1" height="12"/><rect x="412" y="489" width="3" height="1"/><rect x="418" y="479" width="1" height="19"/><rect x="417" y="482" width="3" height="6"/><rect x="427" y="466" width="1" height="14"/><rect x="426" y="466" width="3" height="14"/><rect x="441" y="457" width="1" height="11"/><rect x="440" y="458" width="3" height="2"/><rect x="451" y="446" width="1" height="15"/><rect x="450" y="446" width="3" height="10"/><rect x="455" y="450" width="1" height="10"/><rect x="454" y="451" width="3" height="5"/><rect x="460" y="440" width="1" height="13"/><rect x="459" y="447" width="3" height="2"/><rect x="465" y="443" width="1" height="14"/><rect x="464" y="445" width="3" height="9"/><rect x="469" y="443" width="1" height="10"/><rect x="468" y="443" width="3" height="5"/><rect x="474" y="425" width="1" height="12"/><rect x="473" y="425" width="3" height="9"/><rect x="479" y="422" width="1" height="9"/><rect x="478" y="424" width="3" height="4"/><rect x="502" y="415" width="1" height="13"/><rect x="501" y="415" width="3" height="13"/><rect x="507" y="409" width="1" height="8"/><rect x="506" y="409" width="3" height="6"/><rect x="512" y="401" width="1" height="6"/><rect x="511" y="401" width="3" height="6"/><rect x="526" y="444" width="1" height="19"/><rect x="525" y="446" width="3" height="5"/><rect x="530" y="426" width="1" height="13"/><rect x="529" y="431" width="3" height="7"/><rect x="540" y="402" width="1" height="12"/><rect x="539" y="405" width="3" height="9"/><rect x="554" y="407" width="1" height="8"/><rect x="553" y="409" width="3" height="5"/><rect x="559" y="382" width="1" height="29"/><rect x="558" y="388" width="3" height="22"/><rect x="563" y="378" width="1" height="19"/><rect x="562" y="389" width="3" height="1"/><rect x="568" y="365" width="1" height="12"/><rect x="567" y="370" width="3" height="7"/><rect x="582" y="359" width="1" height="11"/><rect x="581" y="359" width="3" height="11"/><rect x="601" y="333" width="1" height="11"/><rect x="600" y="333" width="3" height="11"/></g><g fill="#d40c0c" shape-rendering="crispEdges"><rect x="18" y="535" width="1" height="20"/><rect x="17" y="540" width="3" height="6"/><rect x="37" y="533" width="1" height="9"/><rect x="36" y="533" width="3" height="4"/><rect x="60" y="504" width="1" height="8"/><rect x="59" y="504" width="3" height="4"/><rect x="65" y="506" width="1" height="12"/><rect x="64" y="508" width="3" height="8"/><rect x="70" y="514" width="1" height="17"/><rect x="69" y="514" width="3" height="17"/><rect x="79" y="514" width="1" height="23"/><rect x="78" y="514" width="3" height="23"/><rect x="98" y="505" width="1" height="15"/><rect x="97" y="505" width="3" height="11"/><rect x="107" y="499" width="1" height="8"/><rect x="106" y="499" width="3" height="3"/><rect x="117" y="505" width="1" height="45"/><rect x="116" y="505" width="3" height="29"/><rect x="121" y="507" width="1" height="53"/><rect x="120" y="533" width="3" height="21"/><rect x="126" y="560" width="1" height="25"/><rect x="125" y="561" width="3" height="10"/><rect x="131" y="596" width="1" height="59"/><rect x="130" y="596" width="3" height="42"/><rect x="150" y="567" width="1" height="28"/><rect x="149" y="571" width="3" height="10"/><rect x="154" y="589" width="1" height="26"/><rect x="153" y="589" width="3" height="20"/><rect x="164" y="598" width="1" height="43"/><rect x="163" y="599" width="3" height="42"/><rect x="183" y="579" width="1" height="16"/><rect x="182" y="580" width="3" height="15"/><rect x="192" y="565" width="1" height="26"/><rect x="191" y="571" width="3" height="7"/><rect x="197" y="574" width="1" height="72"/><rect x="196" y="586" width="3" height="50"/><rect x="206" y="597" width="1" height="28"/><rect x="205" y="600" width="3" height="18"/><rect x="220" y="564" width="1" height="20"/><rect x="219" y="566" width="3" height="9"/><rect x="225" y="584" width="1" height="17"/><rect x="224" y="588" width="3" height="3"/><rect x="239" y="529" width="1" height="11"/><rect x="238" y="533" width="3" height="2"/><rect x="244" y="527" width="1" height="14"/><rect x="243" y="527" width="3" height="7"/><rect x="262" y="504" width="1" height="13"/><rect x="261" y="508" width="3" height="5"/><rect x="281" y="501" width="1" height="14"/><rect x="280" y="510" width="3" height="2"/><rect x="286" y="506" width="1" height="24"/><rect x="285" y="511" width="3" height="14"/><rect x="295" y="513" width="1" height="37"/><rect x="294" y="516" width="3" height="28"/><rect x="305" y="529" width="1" height="17"/><rect x="304" y="529" width="3" height="6"/><rect x="309" y="529" width="1" height="31"/><rect x="308" y="529" width="3" height="19"/><rect x="319" y="524" width="1" height="41"/><rect x="318" y="530" width="3" height="35"/><rect x="324" y="576" width="1" height="38"/><rect x="323" y="576" width="3" height="28"/><rect x="338" y="550" width="1" height="18"/><rect x="337" y="561" width="3" height="5"/><rect x="342" y="575" width="1" height="25"/><rect x="341" y="579" width="3" height="21"/><rect x="375" y="511" width="1" height="13"/><rect x="374" y="517" width="3" height="3"/><rect x="380" y="520" width="1" height="16"/><rect x="379" y="520" width="3" height="9"/><rect x="389" y="506" width="1" height="16"/><rect x="388" y="509" width="3" height="13"/><rect x="399" y="505" width="1" height="12"/><rect x="398" y="506" width="3" height="4"/><rect x="422" y="482" width="1" height="18"/><rect x="421" y="482" width="3" height="8"/><rect x="432" y="452" width="1" height="11"/><rect x="431" y="457" width="3" height="1"/><rect x="436" y="453" width="1" height="10"/><rect x="435" y="455" width="3" height="7"/><rect x="446" y="443" width="1" height="14"/><rect x="445" y="451" width="3" height="2"/><rect x="483" y="419" width="1" height="11"/><rect x="482" y="419" width="3" height="6"/><rect x="488" y="426" width="1" height="21"/><rect x="487" y="429" width="3" height="5"/><rect x="493" y="434" width="1" height="12"/><rect x="492" y="434" width="3" height="4"/><rect x="498" y="432" width="1" height="9"/><rect x="497" y="432" width="3" height="2"/><rect x="516" y="402" width="1" height="10"/><rect x="515" y="404" width="3" height="6"/><rect x="521" y="406" width="1" height="26"/><rect x="520" y="407" width="3" height="24"/><rect x="535" y="426" width="1" height="12"/><rect x="534" y="427" width="3" height="1"/><rect x="545" y="403" width="1" height="10"/><rect x="544" y="408" width="3" height="5"/><rect x="549" y="408" width="1" height="13"/><rect x="548" y="413" width="3" height="4"/><rect x="573" y="365" width="1" height="5"/><rect x="572" y="367" width="3" height="3"/><rect x="577" y="364" width="1" height="7"/><rect x="576" y="367" width="3" height="4"/><rect x="587" y="343" width="1" height="9"/><rect x="586" y="346" width="3" height="2"/><rect x="592" y="342" width="1" height="4"/><rect x="591" y="343" width="3" height="3"/><rect x="596" y="344" width="1" height="5"/><rect x="595" y="344" width="3" height="3"/><rect x="606" y="327" width="1" height="11"/><rect x="605" y="327" width="3" height="7"/></g><g shape-rendering="crispEdges"><line x1="9.5" y1="838.5" x2="9.5" y2="822.9" stroke="#1fe01f" stroke-width="1"/><line x1="13.5" y1="838.5" x2="13.5" y2="826.1" stroke="#0f6f0f" stroke-width="1"/><line x1="18.5" y1="838.5" x2="18.5" y2="825.0" stroke="#1fe01f" stroke-width="1"/><line x1="23.5" y1="838.5" x2="23.5" y2="823.6" stroke="#1fe01f" stroke-width="1"/><line x1="27.5" y1="838.5" x2="27.5" y2="819.9" stroke="#1fe01f" stroke-width="1"/><line x1="32.5" y1="838.5" x2="32.5" y2="820.1" stroke="#0f6f0f" stroke-width="1"/><line x1="37.5" y1="838.5" x2="37.5" y2="824.8" stroke="#0f6f0f" stroke-width="1"/><line x1="41.5" y1="838.5" x2="41.5" y2="828.2" stroke="#0f6f0f" stroke-width="1"/><line x1="46.5" y1="838.5" x2="46.5" y2="829.1" stroke="#0f6f0f" stroke-width="1"/><line x1="51.5" y1="838.5" x2="51.5" y2="829.4" stroke="#0f6f0f" stroke-width="1"/><line x1="56.5" y1="838.5" x2="56.5" y2="828.3" stroke="#1fe01f" stroke-width="1"/><line x1="60.5" y1="838.5" x2="60.5" y2="829.1" stroke="#0f6f0f" stroke-width="1"/><line x1="65.5" y1="838.5" x2="65.5" y2="833.0" stroke="#0f6f0f" stroke-width="1"/><line x1="70.5" y1="838.5" x2="70.5" y2="840.1" stroke="#ff1a1a" stroke-width="1"/><line x1="74.5" y1="838.5" x2="74.5" y2="842.8" stroke="#ff1a1a" stroke-width="1"/><line x1="79.5" y1="838.5" x2="79.5" y2="849.1" stroke="#ff1a1a" stroke-width="1"/><line x1="84.5" y1="838.5" x2="84.5" y2="851.3" stroke="#ff1a1a" stroke-width="1"/><line x1="88.5" y1="838.5" x2="88.5" y2="848.9" stroke="#8a0f0f" stroke-width="1"/><line x1="93.5" y1="838.5" x2="93.5" y2="845.0" stroke="#8a0f0f" stroke-width="1"/><line x1="98.5" y1="838.5" x2="98.5" y2="846.0" stroke="#ff1a1a" stroke-width="1"/><line x1="103.5" y1="838.5" x2="103.5" y2="842.5" stroke="#8a0f0f" stroke-width="1"/><line x1="107.5" y1="838.5" x2="107.5" y2="841.7" stroke="#8a0f0f" stroke-width="1"/><line x1="112.5" y1="838.5" x2="112.5" y2="843.4" stroke="#ff1a1a" stroke-width="1"/><line x1="117.5" y1="838.5" x2="117.5" y2="851.1" stroke="#ff1a1a" stroke-width="1"/><line x1="121.5" y1="838.5" x2="121.5" y2="860.8" stroke="#ff1a1a" stroke-width="1"/><line x1="126.5" y1="838.5" x2="126.5" y2="870.6" stroke="#ff1a1a" stroke-width="1"/><line x1="131.5" y1="838.5" x2="131.5" y2="892.2" stroke="#ff1a1a" stroke-width="1"/><line x1="135.5" y1="838.5" x2="135.5" y2="896.0" stroke="#ff1a1a" stroke-width="1"/><line x1="140.5" y1="838.5" x2="140.5" y2="895.3" stroke="#8a0f0f" stroke-width="1"/><line x1="145.5" y1="838.5" x2="145.5" y2="881.5" stroke="#8a0f0f" stroke-width="1"/><line x1="150.5" y1="838.5" x2="150.5" y2="874.6" stroke="#8a0f0f" stroke-width="1"/><line x1="154.5" y1="838.5" x2="154.5" y2="875.2" stroke="#ff1a1a" stroke-width="1"/><line x1="159.5" y1="838.5" x2="159.5" y2="864.9" stroke="#8a0f0f" stroke-width="1"/><line x1="164.5" y1="838.5" x2="164.5" y2="873.4" stroke="#ff1a1a" stroke-width="1"/><line x1="168.5" y1="838.5" x2="168.5" y2="875.3" stroke="#ff1a1a" stroke-width="1"/><line x1="173.5" y1="838.5" x2="173.5" y2="866.1" stroke="#8a0f0f" stroke-width="1"/><line x1="178.5" y1="838.5" x2="178.5" y2="851.8" stroke="#8a0f0f" stroke-width="1"/><line x1="183.5" y1="838.5" x2="183.5" y2="846.4" stroke="#8a0f0f" stroke-width="1"/><line x1="187.5" y1="838.5" x2="187.5" y2="837.5" stroke="#1fe01f" stroke-width="1"/><line x1="192.5" y1="838.5" x2="192.5" y2="831.8" stroke="#1fe01f" stroke-width="1"/><line x1="197.5" y1="838.5" x2="197.5" y2="842.4" stroke="#ff1a1a" stroke-width="1"/><line x1="201.5" y1="838.5" x2="201.5" y2="842.4" stroke="#8a0f0f" stroke-width="1"/><line x1="206.5" y1="838.5" x2="206.5" y2="843.5" stroke="#ff1a1a" stroke-width="1"/><line x1="211.5" y1="838.5" x2="211.5" y2="839.7" stroke="#8a0f0f" stroke-width="1"/><line x1="215.5" y1="838.5" x2="215.5" y2="830.0" stroke="#1fe01f" stroke-width="1"/><line x1="220.5" y1="838.5" x2="220.5" y2="823.5" stroke="#1fe01f" stroke-width="1"/><line x1="225.5" y1="838.5" x2="225.5" y2="823.8" stroke="#0f6f0f" stroke-width="1"/><line x1="230.5" y1="838.5" x2="230.5" y2="818.1" stroke="#1fe01f" stroke-width="1"/><line x1="234.5" y1="838.5" x2="234.5" y2="807.9" stroke="#1fe01f" stroke-width="1"/><line x1="239.5" y1="838.5" x2="239.5" y2="802.6" stroke="#1fe01f" stroke-width="1"/><line x1="244.5" y1="838.5" x2="244.5" y2="800.7" stroke="#1fe01f" stroke-width="1"/><line x1="248.5" y1="838.5" x2="248.5" y2="801.5" stroke="#0f6f0f" stroke-width="1"/><line x1="253.5" y1="838.5" x2="253.5" y2="799.6" stroke="#1fe01f" stroke-width="1"/><line x1="258.5" y1="838.5" x2="258.5" y2="798.7" stroke="#1fe01f" stroke-width="1"/><line x1="262.5" y1="838.5" x2="262.5" y2="801.1" stroke="#0f6f0f" stroke-width="1"/><line x1="267.5" y1="838.5" x2="267.5" y2="806.3" stroke="#0f6f0f" stroke-width="1"/><line x1="272.5" y1="838.5" x2="272.5" y2="810.1" stroke="#0f6f0f" stroke-width="1"/><line x1="277.5" y1="838.5" x2="277.5" y2="814.1" stroke="#0f6f0f" stroke-width="1"/><line x1="281.5" y1="838.5" x2="281.5" y2="818.3" stroke="#0f6f0f" stroke-width="1"/><line x1="286.5" y1="838.5" x2="286.5" y2="825.5" stroke="#0f6f0f" stroke-width="1"/><line x1="291.5" y1="838.5" x2="291.5" y2="831.1" stroke="#0f6f0f" stroke-width="1"/><line x1="295.5" y1="838.5" x2="295.5" y2="840.3" stroke="#ff1a1a" stroke-width="1"/><line x1="300.5" y1="838.5" x2="300.5" y2="842.9" stroke="#ff1a1a" stroke-width="1"/><line x1="305.5" y1="838.5" x2="305.5" y2="846.3" stroke="#ff1a1a" stroke-width="1"/><line x1="309.5" y1="838.5" x2="309.5" y2="851.6" stroke="#ff1a1a" stroke-width="1"/><line x1="314.5" y1="838.5" x2="314.5" y2="851.9" stroke="#ff1a1a" stroke-width="1"/><line x1="319.5" y1="838.5" x2="319.5" y2="858.9" stroke="#ff1a1a" stroke-width="1"/><line x1="324.5" y1="838.5" x2="324.5" y2="872.3" stroke="#ff1a1a" stroke-width="1"/><line x1="328.5" y1="838.5" x2="328.5" y2="875.0" stroke="#ff1a1a" stroke-width="1"/><line x1="333.5" y1="838.5" x2="333.5" y2="867.0" stroke="#8a0f0f" stroke-width="1"/><line x1="338.5" y1="838.5" x2="338.5" y2="863.5" stroke="#8a0f0f" stroke-width="1"/><line x1="342.5" y1="838.5" x2="342.5" y2="868.5" stroke="#ff1a1a" stroke-width="1"/><line x1="347.5" y1="838.5" x2="347.5" y2="865.0" stroke="#8a0f0f" stroke-width="1"/><line x1="352.5" y1="838.5" x2="352.5" y2="858.9" stroke="#8a0f0f" stroke-width="1"/><line x1="356.5" y1="838.5" x2="356.5" y2="846.8" stroke="#8a0f0f" stroke-width="1"/><line x1="361.5" y1="838.5" x2="361.5" y2="839.3" stroke="#8a0f0f" stroke-width="1"/><line x1="366.5" y1="838.5" x2="366.5" y2="828.8" stroke="#1fe01f" stroke-width="1"/><line x1="371.5" y1="838.5" x2="371.5" y2="823.8" stroke="#1fe01f" stroke-width="1"/><line x1="375.5" y1="838.5" x2="375.5" y2="820.0" stroke="#1fe01f" stroke-width="1"/><line x1="380.5" y1="838.5" x2="380.5" y2="820.8" stroke="#0f6f0f" stroke-width="1"/><line x1="385.5" y1="838.5" x2="385.5" y2="818.1" stroke="#1fe01f" stroke-width="1"/><line x1="389.5" y1="838.5" x2="389.5" y2="819.9" stroke="#0f6f0f" stroke-width="1"/><line x1="394.5" y1="838.5" x2="394.5" y2="820.3" stroke="#0f6f0f" stroke-width="1"/><line x1="399.5" y1="838.5" x2="399.5" y2="820.8" stroke="#0f6f0f" stroke-width="1"/><line x1="404.5" y1="838.5" x2="404.5" y2="819.6" stroke="#1fe01f" stroke-width="1"/><line x1="408.5" y1="838.5" x2="408.5" y2="816.8" stroke="#1fe01f" stroke-width="1"/><line x1="413.5" y1="838.5" x2="413.5" y2="817.0" stroke="#0f6f0f" stroke-width="1"/><line x1="418.5" y1="838.5" x2="418.5" y2="817.0" stroke="#0f6f0f" stroke-width="1"/><line x1="422.5" y1="838.5" x2="422.5" y2="820.3" stroke="#0f6f0f" stroke-width="1"/><line x1="427.5" y1="838.5" x2="427.5" y2="818.0" stroke="#1fe01f" stroke-width="1"/><line x1="432.5" y1="838.5" x2="432.5" y2="816.0" stroke="#1fe01f" stroke-width="1"/><line x1="436.5" y1="838.5" x2="436.5" y2="817.4" stroke="#0f6f0f" stroke-width="1"/><line x1="441.5" y1="838.5" x2="441.5" y2="819.1" stroke="#0f6f0f" stroke-width="1"/><line x1="446.5" y1="838.5" x2="446.5" y2="820.4" stroke="#0f6f0f" stroke-width="1"/><line x1="451.5" y1="838.5" x2="451.5" y2="821.3" stroke="#0f6f0f" stroke-width="1"/><line x1="455.5" y1="838.5" x2="455.5" y2="824.8" stroke="#0f6f0f" stroke-width="1"/><line x1="460.5" y1="838.5" x2="460.5" y2="827.4" stroke="#0f6f0f" stroke-width="1"/><line x1="465.5" y1="838.5" x2="465.5" y2="829.8" stroke="#0f6f0f" stroke-width="1"/><line x1="469.5" y1="838.5" x2="469.5" y2="832.1" stroke="#0f6f0f" stroke-width="1"/><line x1="474.5" y1="838.5" x2="474.5" y2="830.2" stroke="#1fe01f" stroke-width="1"/><line x1="479.5" y1="838.5" x2="479.5" y2="830.0" stroke="#1fe01f" stroke-width="1"/><line x1="483.5" y1="838.5" x2="483.5" y2="831.5" stroke="#0f6f0f" stroke-width="1"/><line x1="488.5" y1="838.5" x2="488.5" y2="835.8" stroke="#0f6f0f" stroke-width="1"/><line x1="493.5" y1="838.5" x2="493.5" y2="840.4" stroke="#ff1a1a" stroke-width="1"/><line x1="498.5" y1="838.5" x2="498.5" y2="843.0" stroke="#ff1a1a" stroke-width="1"/><line x1="502.5" y1="838.5" x2="502.5" y2="840.7" stroke="#8a0f0f" stroke-width="1"/><line x1="507.5" y1="838.5" x2="507.5" y2="838.4" stroke="#1fe01f" stroke-width="1"/><line x1="512.5" y1="838.5" x2="512.5" y2="835.8" stroke="#1fe01f" stroke-width="1"/><line x1="516.5" y1="838.5" x2="516.5" y2="837.4" stroke="#0f6f0f" stroke-width="1"/><line x1="521.5" y1="838.5" x2="521.5" y2="844.5" stroke="#ff1a1a" stroke-width="1"/><line x1="526.5" y1="838.5" x2="526.5" y2="853.3" stroke="#ff1a1a" stroke-width="1"/><line x1="530.5" y1="838.5" x2="530.5" y2="855.1" stroke="#ff1a1a" stroke-width="1"/><line x1="535.5" y1="838.5" x2="535.5" y2="855.2" stroke="#ff1a1a" stroke-width="1"/><line x1="540.5" y1="838.5" x2="540.5" y2="849.5" stroke="#8a0f0f" stroke-width="1"/><line x1="545.5" y1="838.5" x2="545.5" y2="848.1" stroke="#8a0f0f" stroke-width="1"/><line x1="549.5" y1="838.5" x2="549.5" y2="848.3" stroke="#ff1a1a" stroke-width="1"/><line x1="554.5" y1="838.5" x2="554.5" y2="846.6" stroke="#8a0f0f" stroke-width="1"/><line x1="559.5" y1="838.5" x2="559.5" y2="840.6" stroke="#8a0f0f" stroke-width="1"/><line x1="563.5" y1="838.5" x2="563.5" y2="837.5" stroke="#1fe01f" stroke-width="1"/><line x1="568.5" y1="838.5" x2="568.5" y2="831.7" stroke="#1fe01f" stroke-width="1"/><line x1="573.5" y1="838.5" x2="573.5" y2="828.9" stroke="#1fe01f" stroke-width="1"/><line x1="577.5" y1="838.5" x2="577.5" y2="828.5" stroke="#1fe01f" stroke-width="1"/><line x1="582.5" y1="838.5" x2="582.5" y2="826.7" stroke="#1fe01f" stroke-width="1"/><line x1="587.5" y1="838.5" x2="587.5" y2="824.1" stroke="#1fe01f" stroke-width="1"/><line x1="592.5" y1="838.5" x2="592.5" y2="823.4" stroke="#1fe01f" stroke-width="1"/><line x1="596.5" y1="838.5" x2="596.5" y2="824.9" stroke="#0f6f0f" stroke-width="1"/><line x1="601.5" y1="838.5" x2="601.5" y2="823.9" stroke="#1fe01f" stroke-width="1"/><line x1="606.5" y1="838.5" x2="606.5" y2="825.1" stroke="#0f6f0f" stroke-width="1"/></g><line x1="10" y1="838.5" x2="847" y2="838.5" stroke="#8a1ab0" stroke-width="1.4"/><polyline points="9.5,786.8 13.5,783.7 18.5,780.3 23.5,776.6 27.5,772.0 32.5,767.4 37.5,763.9 41.5,761.4 46.5,759.0 51.5,756.7 56.5,754.2 60.5,751.8 65.5,750.4 70.5,750.9 74.5,751.9 79.5,754.6 84.5,757.8 88.5,760.4 93.5,762.0 98.5,763.9 103.5,764.9 107.5,765.7 112.5,766.9 117.5,770.0 121.5,775.6 126.5,783.6 131.5,797.0 135.5,811.4 140.5,825.6 145.5,836.4 150.5,845.4 154.5,854.6 159.5,861.2 164.5,869.9 168.5,879.1 173.5,886.0 178.5,889.3 183.5,891.3 187.5,891.0 192.5,889.4 197.5,890.3 201.5,891.3 206.5,892.5 211.5,892.8 215.5,890.7 220.5,887.0 225.5,883.3 230.5,878.2 234.5,870.6 239.5,861.6 244.5,852.1 248.5,842.9 253.5,833.1 258.5,823.2 262.5,813.8 267.5,805.8 272.5,798.7 277.5,792.6 281.5,787.5 286.5,784.3 291.5,782.4 295.5,782.9 300.5,784.0 305.5,785.9 309.5,789.2 314.5,792.5 319.5,797.6 324.5,806.1 328.5,815.2 333.5,822.3 338.5,828.6 342.5,836.1 347.5,842.7 352.5,847.8 356.5,849.9 361.5,850.1 366.5,847.7 371.5,844.0 375.5,839.4 380.5,834.9 385.5,829.8 389.5,825.2 394.5,820.6 399.5,816.2 404.5,811.5 408.5,806.0 413.5,800.7 418.5,795.3 422.5,790.8 427.5,785.6 432.5,780.0 436.5,774.7 441.5,769.9 446.5,765.4 451.5,761.1 455.5,757.6 460.5,754.8 465.5,752.7 469.5,751.1 474.5,749.0 479.5,746.9 483.5,745.1 488.5,744.5 493.5,744.9 498.5,746.1 502.5,746.6 507.5,746.6 512.5,745.9 516.5,745.6 521.5,747.2 526.5,750.8 530.5,755.0 535.5,759.2 540.5,761.9 545.5,764.3 549.5,766.8 554.5,768.8 559.5,769.3 563.5,769.1 568.5,767.4 573.5,765.0 577.5,762.5 582.5,759.5 587.5,755.9 592.5,752.2 596.5,748.8 601.5,745.1 606.5,741.8" fill="none" stroke="#b03434" stroke-width="1.1" stroke-linejoin="round" /><polyline points="9.5,771.2 13.5,771.3 18.5,766.8 23.5,761.7 27.5,753.3 32.5,748.9 37.5,750.3 41.5,751.0 46.5,749.6 51.5,747.6 56.5,743.9 60.5,742.4 65.5,745.0 70.5,752.5 74.5,756.2 79.5,765.1 84.5,770.6 88.5,770.7 93.5,768.4 98.5,771.4 103.5,768.9 107.5,768.8 112.5,771.7 117.5,782.6 121.5,797.9 126.5,815.7 131.5,850.7 135.5,868.9 140.5,882.4 145.5,879.4 150.5,881.4 154.5,891.3 159.5,887.6 164.5,904.8 168.5,915.9 173.5,913.6 178.5,902.6 183.5,899.2 187.5,890.0 192.5,882.6 197.5,894.3 201.5,895.2 206.5,897.5 211.5,894.1 215.5,882.2 220.5,872.0 225.5,868.6 230.5,857.8 234.5,840.0 239.5,825.6 244.5,814.4 248.5,805.9 253.5,794.2 258.5,783.4 262.5,776.4 267.5,773.6 272.5,770.3 277.5,768.2 281.5,767.3 286.5,771.3 291.5,775.0 295.5,784.7 300.5,788.3 305.5,793.7 309.5,802.3 314.5,805.9 319.5,818.0 324.5,839.9 328.5,851.7 333.5,850.8 338.5,853.6 342.5,866.0 347.5,869.3 352.5,868.3 356.5,858.2 361.5,850.9 366.5,838.0 371.5,829.3 375.5,820.8 380.5,817.2 385.5,809.4 389.5,806.5 394.5,802.5 399.5,798.5 404.5,792.5 408.5,784.4 413.5,779.2 418.5,773.8 422.5,772.6 427.5,765.1 432.5,757.5 436.5,753.6 441.5,750.4 446.5,747.3 451.5,743.9 455.5,743.9 460.5,743.7 465.5,744.0 469.5,744.7 474.5,740.7 479.5,738.4 483.5,738.1 488.5,741.8 493.5,746.8 498.5,750.5 502.5,748.8 507.5,746.5 512.5,743.2 516.5,744.6 521.5,753.2 526.5,765.6 530.5,771.6 535.5,775.9 540.5,773.0 545.5,774.0 549.5,776.6 554.5,776.9 559.5,771.4 563.5,768.0 568.5,760.6 573.5,755.4 577.5,752.5 582.5,747.7 587.5,741.5 592.5,737.1 596.5,735.1 601.5,730.5 606.5,728.4" fill="none" stroke="#3a3a3a" stroke-width="1.1" stroke-linejoin="round" /></svg>
<svg style="position:absolute;left:963px;top:0" width="957" height="972"><rect x="4.5" y="57.5" width="843.0" height="663.0" fill="#fbfbfb" stroke="#c2c2c2" stroke-width="1"/><rect x="4.5" y="751.5" width="843.0" height="169.0" fill="#fbfbfb" stroke="#c2c2c2" stroke-width="1"/><line x1="15" y1="82.5" x2="835" y2="82.5" stroke="#222" stroke-width="1" stroke-dasharray="1 5"/><line x1="5" y1="82.5" x2="10" y2="82.5" stroke="#111" stroke-width="1"/><line x1="842" y1="82.5" x2="847" y2="82.5" stroke="#111" stroke-width="1"/><line x1="15" y1="129.5" x2="835" y2="129.5" stroke="#222" stroke-width="1" stroke-dasharray="1 5"/><line x1="5" y1="129.5" x2="10" y2="129.5" stroke="#111" stroke-width="1"/><line x1="842" y1="129.5" x2="847" y2="129.5" stroke="#111" stroke-width="1"/><line x1="15" y1="175.5" x2="835" y2="175.5" stroke="#222" stroke-width="1" stroke-dasharray="1 5"/><line x1="5" y1="175.5" x2="10" y2="175.5" stroke="#111" stroke-width="1"/><line x1="842" y1="175.5" x2="847" y2="175.5" stroke="#111" stroke-width="1"/><line x1="15" y1="222.5" x2="835" y2="222.5" stroke="#222" stroke-width="1" stroke-dasharray="1 5"/><line x1="5" y1="222.5" x2="10" y2="222.5" stroke="#111" stroke-width="1"/><line x1="842" y1="222.5" x2="847" y2="222.5" stroke="#111" stroke-width="1"/><line x1="15" y1="268.5" x2="835" y2="268.5" stroke="#222" stroke-width="1" stroke-dasharray="1 5"/><line x1="5" y1="268.5" x2="10" y2="268.5" stroke="#111" stroke-width="1"/><line x1="842" y1="268.5" x2="847" y2="268.5" stroke="#111" stroke-width="1"/><line x1="15" y1="315.5" x2="835" y2="315.5" stroke="#222" stroke-width="1" stroke-dasharray="1 5"/><line x1="5" y1="315.5" x2="10" y2="315.5" stroke="#111" stroke-width="1"/><line x1="842" y1="315.5" x2="847" y2="315.5" stroke="#111" stroke-width="1"/><line x1="15" y1="361.5" x2="835" y2="361.5" stroke="#222" stroke-width="1" stroke-dasharray="1 5"/><line x1="5" y1="361.5" x2="10" y2="361.5" stroke="#111" stroke-width="1"/><line x1="842" y1="361.5" x2="847" y2="361.5" stroke="#111" stroke-width="1"/><line x1="15" y1="408.5" x2="835" y2="408.5" stroke="#222" stroke-width="1" stroke-dasharray="1 5"/><line x1="5" y1="408.5" x2="10" y2="408.5" stroke="#111" stroke-width="1"/><line x1="842" y1="408.5" x2="847" y2="408.5" stroke="#111" stroke-width="1"/><line x1="15" y1="455.5" x2="835" y2="455.5" stroke="#222" stroke-width="1" stroke-dasharray="1 5"/><line x1="5" y1="455.5" x2="10" y2="455.5" stroke="#111" stroke-width="1"/><line x1="842" y1="455.5" x2="847" y2="455.5" stroke="#111" stroke-width="1"/><line x1="15" y1="501.5" x2="835" y2="501.5" stroke="#222" stroke-width="1" stroke-dasharray="1 5"/><line x1="5" y1="501.5" x2="10" y2="501.5" stroke="#111" stroke-width="1"/><line x1="842" y1="501.5" x2="847" y2="501.5" stroke="#111" stroke-width="1"/><line x1="15" y1="548.5" x2="835" y2="548.5" stroke="#222" stroke-width="1" stroke-dasharray="1 5"/><line x1="5" y1="548.5" x2="10" y2="548.5" stroke="#111" stroke-width="1"/><line x1="842" y1="548.5" x2="847" y2="548.5" stroke="#111" stroke-width="1"/><line x1="15" y1="594.5" x2="835" y2="594.5" stroke="#222" stroke-width="1" stroke-dasharray="1 5"/><line x1="5" y1="594.5" x2="10" y2="594.5" stroke="#111" stroke-width="1"/><line x1="842" y1="594.5" x2="847" y2="594.5" stroke="#111" stroke-width="1"/><line x1="15" y1="641.5" x2="835" y2="641.5" stroke="#222" stroke-width="1" stroke-dasharray="1 5"/><line x1="5" y1="641.5" x2="10" y2="641.5" stroke="#111" stroke-width="1"/><line x1="842" y1="641.5" x2="847" y2="641.5" stroke="#111" stroke-width="1"/><line x1="15" y1="687.5" x2="835" y2="687.5" stroke="#222" stroke-width="1" stroke-dasharray="1 5"/><line x1="5" y1="687.5" x2="10" y2="687.5" stroke="#111" stroke-width="1"/><line x1="842" y1="687.5" x2="847" y2="687.5" stroke="#111" stroke-width="1"/><line x1="15" y1="787.5" x2="835" y2="787.5" stroke="#222" stroke-width="1" stroke-dasharray="1 5"/><line x1="842" y1="787.5" x2="847" y2="787.5" stroke="#111" stroke-width="1"/><line x1="5" y1="787.5" x2="10" y2="787.5" stroke="#111" stroke-width="1"/><line x1="15" y1="823.5" x2="835" y2="823.5" stroke="#222" stroke-width="1" stroke-dasharray="1 5"/><line x1="842" y1="823.5" x2="847" y2="823.5" stroke="#111" stroke-width="1"/><line x1="5" y1="823.5" x2="10" y2="823.5" stroke="#111" stroke-width="1"/><line x1="842" y1="859.5" x2="847" y2="859.5" stroke="#111" stroke-width="1"/><line x1="5" y1="859.5" x2="10" y2="859.5" stroke="#111" stroke-width="1"/><line x1="15" y1="896.5" x2="835" y2="896.5" stroke="#222" stroke-width="1" stroke-dasharray="1 5"/><line x1="842" y1="896.5" x2="847" y2="896.5" stroke="#111" stroke-width="1"/><line x1="5" y1="896.5" x2="10" y2="896.5" stroke="#111" stroke-width="1"/><line x1="16.5" y1="62.0" x2="16.5" y2="715.5" stroke="#222" stroke-width="1" stroke-dasharray="1 5"/><line x1="16.5" y1="756.0" x2="16.5" y2="915.5" stroke="#222" stroke-width="1" stroke-dasharray="1 5"/><line x1="16.5" y1="58.0" x2="16.5" y2="62.0" stroke="#111" stroke-width="1"/><line x1="16.5" y1="716.0" x2="16.5" y2="720.5" stroke="#111" stroke-width="1"/><line x1="16.5" y1="752.0" x2="16.5" y2="756.0" stroke="#111" stroke-width="1"/><line x1="16.5" y1="916.0" x2="16.5" y2="920.5" stroke="#111" stroke-width="1"/><line x1="119.5" y1="62.0" x2="119.5" y2="715.5" stroke="#222" stroke-width="1" stroke-dasharray="1 5"/><line x1="119.5" y1="756.0" x2="119.5" y2="915.5" stroke="#222" stroke-width="1" stroke-dasharray="1 5"/><line x1="119.5" y1="58.0" x2="119.5" y2="62.0" stroke="#111" stroke-width="1"/><line x1="119.5" y1="716.0" x2="119.5" y2="720.5" stroke="#111" stroke-width="1"/><line x1="119.5" y1="752.0" x2="119.5" y2="756.0" stroke="#111" stroke-width="1"/><line x1="119.5" y1="916.0" x2="119.5" y2="920.5" stroke="#111" stroke-width="1"/><line x1="223.5" y1="62.0" x2="223.5" y2="715.5" stroke="#222" stroke-width="1" stroke-dasharray="1 5"/><line x1="223.5" y1="756.0" x2="223.5" y2="915.5" stroke="#222" stroke-width="1" stroke-dasharray="1 5"/><line x1="223.5" y1="58.0" x2="223.5" y2="62.0" stroke="#111" stroke-width="1"/><line x1="223.5" y1="716.0" x2="223.5" y2="720.5" stroke="#111" stroke-width="1"/><line x1="223.5" y1="752.0" x2="223.5" y2="756.0" stroke="#111" stroke-width="1"/><line x1="223.5" y1="916.0" x2="223.5" y2="920.5" stroke="#111" stroke-width="1"/><line x1="317.5" y1="62.0" x2="317.5" y2="715.5" stroke="#222" stroke-width="1" stroke-dasharray="1 5"/><line x1="317.5" y1="756.0" x2="317.5" y2="915.5" stroke="#222" stroke-width="1" stroke-dasharray="1 5"/><line x1="317.5" y1="58.0" x2="317.5" y2="62.0" stroke="#111" stroke-width="1"/><line x1="317.5" y1="716.0" x2="317.5" y2="720.5" stroke="#111" stroke-width="1"/><line x1="317.5" y1="752.0" x2="317.5" y2="756.0" stroke="#111" stroke-width="1"/><line x1="317.5" y1="916.0" x2="317.5" y2="920.5" stroke="#111" stroke-width="1"/><line x1="426.5" y1="62.0" x2="426.5" y2="715.5" stroke="#222" stroke-width="1" stroke-dasharray="1 5"/><line x1="426.5" y1="756.0" x2="426.5" y2="915.5" stroke="#222" stroke-width="1" stroke-dasharray="1 5"/><line x1="426.5" y1="58.0" x2="426.5" y2="62.0" stroke="#111" stroke-width="1"/><line x1="426.5" y1="716.0" x2="426.5" y2="720.5" stroke="#111" stroke-width="1"/><line x1="426.5" y1="752.0" x2="426.5" y2="756.0" stroke="#111" stroke-width="1"/><line x1="426.5" y1="916.0" x2="426.5" y2="920.5" stroke="#111" stroke-width="1"/><line x1="520.5" y1="62.0" x2="520.5" y2="715.5" stroke="#222" stroke-width="1" stroke-dasharray="1 5"/><line x1="520.5" y1="756.0" x2="520.5" y2="915.5" stroke="#222" stroke-width="1" stroke-dasharray="1 5"/><line x1="520.5" y1="58.0" x2="520.5" y2="62.0" stroke="#111" stroke-width="1"/><line x1="520.5" y1="716.0" x2="520.5" y2="720.5" stroke="#111" stroke-width="1"/><line x1="520.5" y1="752.0" x2="520.5" y2="756.0" stroke="#111" stroke-width="1"/><line x1="520.5" y1="916.0" x2="520.5" y2="920.5" stroke="#111" stroke-width="1"/><line x1="619.5" y1="62.0" x2="619.5" y2="715.5" stroke="#222" stroke-width="1" stroke-dasharray="1 5"/><line x1="619.5" y1="756.0" x2="619.5" y2="915.5" stroke="#222" stroke-width="1" stroke-dasharray="1 5"/><line x1="619.5" y1="58.0" x2="619.5" y2="62.0" stroke="#111" stroke-width="1"/><line x1="619.5" y1="716.0" x2="619.5" y2="720.5" stroke="#111" stroke-width="1"/><line x1="619.5" y1="752.0" x2="619.5" y2="756.0" stroke="#111" stroke-width="1"/><line x1="619.5" y1="916.0" x2="619.5" y2="920.5" stroke="#111" stroke-width="1"/><line x1="717.5" y1="62.0" x2="717.5" y2="715.5" stroke="#222" stroke-width="1" stroke-dasharray="1 5"/><line x1="717.5" y1="756.0" x2="717.5" y2="915.5" stroke="#222" stroke-width="1" stroke-dasharray="1 5"/><line x1="717.5" y1="58.0" x2="717.5" y2="62.0" stroke="#111" stroke-width="1"/><line x1="717.5" y1="716.0" x2="717.5" y2="720.5" stroke="#111" stroke-width="1"/><line x1="717.5" y1="752.0" x2="717.5" y2="756.0" stroke="#111" stroke-width="1"/><line x1="717.5" y1="916.0" x2="717.5" y2="920.5" stroke="#111" stroke-width="1"/><line x1="807.5" y1="62.0" x2="807.5" y2="715.5" stroke="#222" stroke-width="1" stroke-dasharray="1 5"/><line x1="807.5" y1="756.0" x2="807.5" y2="915.5" stroke="#222" stroke-width="1" stroke-dasharray="1 5"/><line x1="807.5" y1="58.0" x2="807.5" y2="62.0" stroke="#111" stroke-width="1"/><line x1="807.5" y1="716.0" x2="807.5" y2="720.5" stroke="#111" stroke-width="1"/><line x1="807.5" y1="752.0" x2="807.5" y2="756.0" stroke="#111" stroke-width="1"/><line x1="807.5" y1="916.0" x2="807.5" y2="920.5" stroke="#111" stroke-width="1"/><path d="M8.6,708.3 C21.8,707.8 68.8,706.9 87.7,705.4 C106.6,703.9 99.6,702.6 122.0,699.0 C144.4,695.4 189.5,689.7 222.0,684.0 C254.5,678.3 299.1,668.7 317.0,665.0 C334.9,661.3 318.7,665.6 329.5,661.7 C340.3,657.8 365.8,647.5 382.0,641.7 C398.2,635.9 412.8,631.3 427.0,626.7 C441.2,622.1 451.4,619.1 467.0,614.2 C482.6,609.3 503.6,602.4 520.3,597.5 C537.0,592.6 552.4,589.2 567.0,585.0 C581.6,580.8 601.0,574.2 607.8,572.0" fill="none" stroke="#3a3a3a" stroke-width="1.1"/><path d="M9.1,627.6 C15.0,627.4 31.4,628.0 44.5,626.3 C57.6,624.6 74.7,621.6 87.7,617.6 C100.7,613.6 112.9,605.7 122.3,602.5 C131.7,599.3 137.5,600.7 144.0,598.2 C150.5,595.7 153.3,589.9 161.2,587.4 C169.1,584.9 179.2,583.6 191.5,583.0 C203.8,582.4 220.3,584.2 234.7,583.9 C249.1,583.5 267.1,581.0 277.9,580.9 C288.7,580.8 293.0,582.0 299.5,583.0 C306.0,584.0 310.5,584.7 317.0,586.7 C323.5,588.7 331.9,592.7 338.7,595.0 C345.5,597.3 352.2,600.2 357.8,600.3 C363.3,600.4 365.8,597.1 372.0,595.8 C378.2,594.5 388.9,594.2 395.3,592.5 C401.7,590.8 405.0,587.8 410.3,585.8 C415.6,583.8 420.9,583.7 427.0,580.8 C433.1,577.9 440.6,571.8 447.0,568.3 C453.4,564.8 456.0,564.0 465.3,560.0 C474.6,556.0 489.5,550.4 503.0,544.2 C516.5,538.0 534.6,530.0 546.1,522.6 C557.6,515.2 561.9,508.5 572.0,499.6 C582.1,490.7 600.8,474.4 606.6,469.4" fill="none" stroke="#1f4fae" stroke-width="1.2"/><polyline points="9.5,609.0 13.5,601.0 18.5,597.0 23.5,594.0 27.5,589.5 32.5,587.0 37.5,584.5 41.5,581.7 46.5,577.0 51.5,568.2 56.5,561.8 60.5,555.9 65.5,552.9 70.5,551.0 74.5,550.0 79.5,550.4 84.5,547.9 88.5,545.4 93.5,542.7 98.5,541.7 103.5,539.7 107.5,538.9 112.5,537.7 117.5,538.1 121.5,540.5 126.5,543.9 131.5,555.0 135.5,564.7 140.5,575.4 145.5,579.9 150.5,588.5 154.5,598.6 159.5,604.6 164.5,614.0 168.5,622.0 173.5,624.4 178.5,618.0 183.5,615.5 187.5,611.8 192.5,613.0 197.5,617.8 201.5,618.1 206.5,622.5 211.5,620.4 215.5,615.6 220.5,614.1 225.5,617.0 230.5,616.3 234.5,614.0 239.5,611.3 244.5,603.5 248.5,598.1 253.5,590.1 258.5,582.2 262.5,577.4 267.5,572.9 272.5,565.6 277.5,560.9 281.5,559.4 286.5,559.1 291.5,558.5 295.5,560.7 300.5,562.9 305.5,566.7 309.5,572.3 314.5,576.0 319.5,582.5 324.5,591.8 328.5,598.9 333.5,602.1 338.5,605.4 342.5,609.3 347.5,613.3 352.5,615.2 356.5,612.4 361.5,611.1 366.5,605.5 371.5,597.6 375.5,591.0 380.5,588.5 385.5,584.1 389.5,577.5 394.5,572.5 399.5,567.1 404.5,562.7 408.5,556.3 413.5,553.3 418.5,549.2 422.5,545.9 427.5,539.0 432.5,532.7 436.5,524.9 441.5,518.1 446.5,512.3 451.5,507.0 455.5,503.8 460.5,498.8 465.5,494.6 469.5,490.3 474.5,486.7 479.5,483.9 483.5,480.8 488.5,478.1 493.5,476.4 498.5,475.3 502.5,471.4 507.5,467.7 512.5,462.6 516.5,458.3 521.5,457.6 526.5,458.3 530.5,458.4 535.5,457.4 540.5,453.9 545.5,451.6 549.5,452.1 554.5,451.9 559.5,451.9 563.5,450.1 568.5,444.4 573.5,437.5 577.5,431.4 582.5,424.0 587.5,417.8 592.5,410.2 596.5,402.4 601.5,393.8 606.5,386.8" fill="none" stroke="#4aaa2a" stroke-width="1.2" stroke-linejoin="round" /><line x1="99.79999999999995" y1="510.5" x2="262" y2="510.5" stroke="#98d8ea" stroke-width="5" stroke-linecap="round"/><line x1="262" y1="511.5" x2="424.5" y2="511.5" stroke="#98d8ea" stroke-width="5" stroke-linecap="round"/><line x1="503.0999999999999" y1="428.5" x2="561.4000000000001" y2="428.5" stroke="#98d8ea" stroke-width="5" stroke-linecap="round"/><g fill="#2f9612" shape-rendering="crispEdges"><rect x="9" y="601" width="1" height="9"/><rect x="8" y="602" width="3" height="7"/><rect x="13" y="593" width="1" height="11"/><rect x="12" y="593" width="3" height="5"/><rect x="23" y="569" width="1" height="11"/><rect x="22" y="569" width="3" height="6"/><rect x="27" y="555" width="1" height="11"/><rect x="26" y="555" width="3" height="10"/><rect x="32" y="557" width="1" height="16"/><rect x="31" y="557" width="3" height="10"/><rect x="41" y="561" width="1" height="20"/><rect x="40" y="562" width="3" height="19"/><rect x="46" y="541" width="1" height="16"/><rect x="45" y="547" width="3" height="5"/><rect x="56" y="538" width="1" height="9"/><rect x="55" y="538" width="3" height="9"/><rect x="74" y="545" width="1" height="18"/><rect x="73" y="546" width="3" height="14"/><rect x="84" y="544" width="1" height="12"/><rect x="83" y="548" width="3" height="8"/><rect x="88" y="536" width="1" height="13"/><rect x="87" y="536" width="3" height="2"/><rect x="93" y="520" width="1" height="23"/><rect x="92" y="520" width="3" height="23"/><rect x="103" y="515" width="1" height="12"/><rect x="102" y="518" width="3" height="8"/><rect x="112" y="526" width="1" height="15"/><rect x="111" y="531" width="3" height="10"/><rect x="135" y="632" width="1" height="23"/><rect x="134" y="633" width="3" height="8"/><rect x="140" y="622" width="1" height="42"/><rect x="139" y="627" width="3" height="27"/><rect x="145" y="585" width="1" height="34"/><rect x="144" y="585" width="3" height="29"/><rect x="159" y="579" width="1" height="51"/><rect x="158" y="591" width="3" height="39"/><rect x="173" y="618" width="1" height="18"/><rect x="172" y="619" width="3" height="17"/><rect x="187" y="586" width="1" height="9"/><rect x="186" y="590" width="3" height="2"/><rect x="201" y="629" width="1" height="15"/><rect x="200" y="630" width="3" height="5"/><rect x="211" y="626" width="1" height="23"/><rect x="210" y="628" width="3" height="14"/><rect x="215" y="597" width="1" height="15"/><rect x="214" y="601" width="3" height="6"/><rect x="230" y="597" width="1" height="15"/><rect x="229" y="600" width="3" height="6"/><rect x="234" y="563" width="1" height="17"/><rect x="233" y="567" width="3" height="13"/><rect x="248" y="574" width="1" height="22"/><rect x="247" y="575" width="3" height="8"/><rect x="253" y="555" width="1" height="21"/><rect x="252" y="555" width="3" height="19"/><rect x="267" y="556" width="1" height="11"/><rect x="266" y="559" width="3" height="7"/><rect x="272" y="551" width="1" height="12"/><rect x="271" y="551" width="3" height="10"/><rect x="277" y="553" width="1" height="21"/><rect x="276" y="553" width="3" height="1"/><rect x="291" y="563" width="1" height="12"/><rect x="290" y="568" width="3" height="2"/><rect x="300" y="572" width="1" height="38"/><rect x="299" y="577" width="3" height="21"/><rect x="314" y="593" width="1" height="14"/><rect x="313" y="596" width="3" height="8"/><rect x="328" y="624" width="1" height="40"/><rect x="327" y="624" width="3" height="21"/><rect x="333" y="599" width="1" height="18"/><rect x="332" y="600" width="3" height="17"/><rect x="347" y="611" width="1" height="13"/><rect x="346" y="617" width="3" height="2"/><rect x="352" y="600" width="1" height="18"/><rect x="351" y="606" width="3" height="12"/><rect x="356" y="568" width="1" height="17"/><rect x="355" y="581" width="3" height="4"/><rect x="361" y="578" width="1" height="12"/><rect x="360" y="583" width="3" height="2"/><rect x="366" y="556" width="1" height="22"/><rect x="365" y="560" width="3" height="18"/><rect x="371" y="561" width="1" height="12"/><rect x="370" y="566" width="3" height="2"/><rect x="385" y="556" width="1" height="11"/><rect x="384" y="557" width="3" height="6"/><rect x="394" y="567" width="1" height="12"/><rect x="393" y="567" width="3" height="7"/><rect x="399" y="551" width="1" height="12"/><rect x="398" y="551" width="3" height="2"/><rect x="404" y="537" width="1" height="24"/><rect x="403" y="538" width="3" height="23"/><rect x="408" y="516" width="1" height="13"/><rect x="407" y="519" width="3" height="10"/><rect x="418" y="521" width="1" height="17"/><rect x="417" y="524" width="3" height="5"/><rect x="427" y="505" width="1" height="13"/><rect x="426" y="505" width="3" height="13"/><rect x="451" y="484" width="1" height="16"/><rect x="450" y="484" width="3" height="12"/><rect x="455" y="486" width="1" height="9"/><rect x="454" y="486" width="3" height="9"/><rect x="460" y="475" width="1" height="12"/><rect x="459" y="481" width="3" height="4"/><rect x="465" y="479" width="1" height="10"/><rect x="464" y="482" width="3" height="7"/><rect x="469" y="483" width="1" height="9"/><rect x="468" y="483" width="3" height="4"/><rect x="474" y="469" width="1" height="8"/><rect x="473" y="469" width="3" height="3"/><rect x="479" y="464" width="1" height="13"/><rect x="478" y="466" width="3" height="6"/><rect x="502" y="447" width="1" height="18"/><rect x="501" y="447" width="3" height="17"/><rect x="507" y="441" width="1" height="10"/><rect x="506" y="444" width="3" height="4"/><rect x="512" y="431" width="1" height="9"/><rect x="511" y="431" width="3" height="9"/><rect x="526" y="473" width="1" height="20"/><rect x="525" y="473" width="3" height="15"/><rect x="530" y="458" width="1" height="8"/><rect x="529" y="463" width="3" height="3"/><rect x="540" y="440" width="1" height="9"/><rect x="539" y="442" width="3" height="6"/><rect x="554" y="442" width="1" height="8"/><rect x="553" y="442" width="3" height="7"/><rect x="559" y="421" width="1" height="26"/><rect x="558" y="431" width="3" height="14"/><rect x="563" y="415" width="1" height="18"/><rect x="562" y="423" width="3" height="5"/><rect x="568" y="400" width="1" height="11"/><rect x="567" y="405" width="3" height="6"/><rect x="582" y="388" width="1" height="12"/><rect x="581" y="388" width="3" height="12"/><rect x="587" y="376" width="1" height="9"/><rect x="586" y="380" width="3" height="3"/><rect x="601" y="356" width="1" height="14"/><rect x="600" y="356" width="3" height="14"/></g><g fill="#d40c0c" shape-rendering="crispEdges"><rect x="18" y="561" width="1" height="20"/><rect x="17" y="561" width="3" height="13"/><rect x="37" y="568" width="1" height="8"/><rect x="36" y="568" width="3" height="4"/><rect x="51" y="543" width="1" height="12"/><rect x="50" y="544" width="3" height="6"/><rect x="60" y="533" width="1" height="7"/><rect x="59" y="533" width="3" height="2"/><rect x="65" y="535" width="1" height="12"/><rect x="64" y="536" width="3" height="7"/><rect x="70" y="542" width="1" height="9"/><rect x="69" y="542" width="3" height="9"/><rect x="79" y="538" width="1" height="23"/><rect x="78" y="538" width="3" height="23"/><rect x="98" y="526" width="1" height="14"/><rect x="97" y="526" width="3" height="14"/><rect x="107" y="519" width="1" height="18"/><rect x="106" y="519" width="3" height="7"/><rect x="117" y="526" width="1" height="43"/><rect x="116" y="526" width="3" height="28"/><rect x="121" y="522" width="1" height="55"/><rect x="120" y="550" width="3" height="20"/><rect x="126" y="580" width="1" height="26"/><rect x="125" y="580" width="3" height="15"/><rect x="131" y="634" width="1" height="39"/><rect x="130" y="636" width="3" height="23"/><rect x="150" y="590" width="1" height="25"/><rect x="149" y="591" width="3" height="14"/><rect x="154" y="612" width="1" height="21"/><rect x="153" y="616" width="3" height="11"/><rect x="164" y="618" width="1" height="32"/><rect x="163" y="623" width="3" height="25"/><rect x="168" y="640" width="1" height="22"/><rect x="167" y="644" width="3" height="6"/><rect x="178" y="588" width="1" height="13"/><rect x="177" y="593" width="3" height="2"/><rect x="183" y="597" width="1" height="11"/><rect x="182" y="598" width="3" height="10"/><rect x="192" y="583" width="1" height="26"/><rect x="191" y="586" width="3" height="12"/><rect x="197" y="594" width="1" height="63"/><rect x="196" y="608" width="3" height="44"/><rect x="206" y="614" width="1" height="28"/><rect x="205" y="616" width="3" height="19"/><rect x="220" y="590" width="1" height="24"/><rect x="219" y="591" width="3" height="13"/><rect x="225" y="608" width="1" height="23"/><rect x="224" y="617" width="3" height="7"/><rect x="239" y="563" width="1" height="9"/><rect x="238" y="565" width="3" height="6"/><rect x="244" y="564" width="1" height="18"/><rect x="243" y="564" width="3" height="10"/><rect x="258" y="538" width="1" height="15"/><rect x="257" y="546" width="3" height="4"/><rect x="262" y="546" width="1" height="10"/><rect x="261" y="550" width="3" height="3"/><rect x="281" y="539" width="1" height="16"/><rect x="280" y="550" width="3" height="3"/><rect x="286" y="547" width="1" height="28"/><rect x="285" y="552" width="3" height="16"/><rect x="295" y="558" width="1" height="44"/><rect x="294" y="560" width="3" height="37"/><rect x="305" y="578" width="1" height="19"/><rect x="304" y="578" width="3" height="10"/><rect x="309" y="584" width="1" height="36"/><rect x="308" y="584" width="3" height="26"/><rect x="319" y="582" width="1" height="35"/><rect x="318" y="588" width="3" height="28"/><rect x="324" y="629" width="1" height="25"/><rect x="323" y="629" width="3" height="16"/><rect x="338" y="592" width="1" height="16"/><rect x="337" y="598" width="3" height="3"/><rect x="342" y="613" width="1" height="24"/><rect x="341" y="618" width="3" height="19"/><rect x="375" y="552" width="1" height="12"/><rect x="374" y="553" width="3" height="6"/><rect x="380" y="559" width="1" height="26"/><rect x="379" y="560" width="3" height="14"/><rect x="389" y="550" width="1" height="21"/><rect x="388" y="550" width="3" height="21"/><rect x="413" y="522" width="1" height="9"/><rect x="412" y="522" width="3" height="9"/><rect x="422" y="521" width="1" height="16"/><rect x="421" y="521" width="3" height="5"/><rect x="432" y="489" width="1" height="8"/><rect x="431" y="492" width="3" height="2"/><rect x="436" y="488" width="1" height="9"/><rect x="435" y="491" width="3" height="2"/><rect x="441" y="495" width="1" height="11"/><rect x="440" y="495" width="3" height="4"/><rect x="446" y="482" width="1" height="16"/><rect x="445" y="490" width="3" height="4"/><rect x="483" y="457" width="1" height="13"/><rect x="482" y="460" width="3" height="3"/><rect x="488" y="460" width="1" height="25"/><rect x="487" y="468" width="3" height="4"/><rect x="493" y="472" width="1" height="9"/><rect x="492" y="472" width="3" height="4"/><rect x="498" y="471" width="1" height="12"/><rect x="497" y="471" width="3" height="3"/><rect x="516" y="433" width="1" height="8"/><rect x="515" y="436" width="3" height="5"/><rect x="521" y="438" width="1" height="31"/><rect x="520" y="438" width="3" height="24"/><rect x="535" y="458" width="1" height="10"/><rect x="534" y="458" width="3" height="4"/><rect x="545" y="436" width="1" height="15"/><rect x="544" y="443" width="3" height="8"/><rect x="549" y="443" width="1" height="13"/><rect x="548" y="449" width="3" height="3"/><rect x="573" y="401" width="1" height="7"/><rect x="572" y="401" width="3" height="3"/><rect x="577" y="397" width="1" height="7"/><rect x="576" y="400" width="3" height="3"/><rect x="592" y="373" width="1" height="5"/><rect x="591" y="373" width="3" height="1"/><rect x="596" y="372" width="1" height="5"/><rect x="595" y="372" width="3" height="2"/><rect x="606" y="350" width="1" height="16"/><rect x="605" y="350" width="3" height="11"/></g><g shape-rendering="crispEdges"><line x1="9.5" y1="859.2" x2="9.5" y2="844.9" stroke="#1fe01f" stroke-width="1"/><line x1="13.5" y1="859.2" x2="13.5" y2="845.0" stroke="#0f6f0f" stroke-width="1"/><line x1="18.5" y1="859.2" x2="18.5" y2="842.2" stroke="#1fe01f" stroke-width="1"/><line x1="23.5" y1="859.2" x2="23.5" y2="840.9" stroke="#1fe01f" stroke-width="1"/><line x1="27.5" y1="859.2" x2="27.5" y2="838.5" stroke="#1fe01f" stroke-width="1"/><line x1="32.5" y1="859.2" x2="32.5" y2="838.9" stroke="#0f6f0f" stroke-width="1"/><line x1="37.5" y1="859.2" x2="37.5" y2="843.7" stroke="#0f6f0f" stroke-width="1"/><line x1="41.5" y1="859.2" x2="41.5" y2="845.9" stroke="#0f6f0f" stroke-width="1"/><line x1="46.5" y1="859.2" x2="46.5" y2="845.6" stroke="#1fe01f" stroke-width="1"/><line x1="51.5" y1="859.2" x2="51.5" y2="847.3" stroke="#0f6f0f" stroke-width="1"/><line x1="56.5" y1="859.2" x2="56.5" y2="847.1" stroke="#1fe01f" stroke-width="1"/><line x1="60.5" y1="859.2" x2="60.5" y2="847.6" stroke="#0f6f0f" stroke-width="1"/><line x1="65.5" y1="859.2" x2="65.5" y2="850.8" stroke="#0f6f0f" stroke-width="1"/><line x1="70.5" y1="859.2" x2="70.5" y2="855.4" stroke="#0f6f0f" stroke-width="1"/><line x1="74.5" y1="859.2" x2="74.5" y2="858.3" stroke="#0f6f0f" stroke-width="1"/><line x1="79.5" y1="859.2" x2="79.5" y2="863.7" stroke="#ff1a1a" stroke-width="1"/><line x1="84.5" y1="859.2" x2="84.5" y2="864.9" stroke="#ff1a1a" stroke-width="1"/><line x1="88.5" y1="859.2" x2="88.5" y2="863.7" stroke="#8a0f0f" stroke-width="1"/><line x1="93.5" y1="859.2" x2="93.5" y2="860.3" stroke="#8a0f0f" stroke-width="1"/><line x1="98.5" y1="859.2" x2="98.5" y2="862.5" stroke="#ff1a1a" stroke-width="1"/><line x1="103.5" y1="859.2" x2="103.5" y2="860.1" stroke="#8a0f0f" stroke-width="1"/><line x1="107.5" y1="859.2" x2="107.5" y2="860.8" stroke="#ff1a1a" stroke-width="1"/><line x1="112.5" y1="859.2" x2="112.5" y2="862.6" stroke="#ff1a1a" stroke-width="1"/><line x1="117.5" y1="859.2" x2="117.5" y2="868.9" stroke="#ff1a1a" stroke-width="1"/><line x1="121.5" y1="859.2" x2="121.5" y2="875.9" stroke="#ff1a1a" stroke-width="1"/><line x1="126.5" y1="859.2" x2="126.5" y2="885.0" stroke="#ff1a1a" stroke-width="1"/><line x1="131.5" y1="859.2" x2="131.5" y2="902.6" stroke="#ff1a1a" stroke-width="1"/><line x1="135.5" y1="859.2" x2="135.5" y2="906.6" stroke="#ff1a1a" stroke-width="1"/><line x1="140.5" y1="859.2" x2="140.5" y2="905.7" stroke="#8a0f0f" stroke-width="1"/><line x1="145.5" y1="859.2" x2="145.5" y2="894.5" stroke="#8a0f0f" stroke-width="1"/><line x1="150.5" y1="859.2" x2="150.5" y2="889.7" stroke="#8a0f0f" stroke-width="1"/><line x1="154.5" y1="859.2" x2="154.5" y2="889.5" stroke="#8a0f0f" stroke-width="1"/><line x1="159.5" y1="859.2" x2="159.5" y2="880.7" stroke="#8a0f0f" stroke-width="1"/><line x1="164.5" y1="859.2" x2="164.5" y2="885.2" stroke="#ff1a1a" stroke-width="1"/><line x1="168.5" y1="859.2" x2="168.5" y2="886.8" stroke="#ff1a1a" stroke-width="1"/><line x1="173.5" y1="859.2" x2="173.5" y2="880.1" stroke="#8a0f0f" stroke-width="1"/><line x1="178.5" y1="859.2" x2="178.5" y2="869.7" stroke="#8a0f0f" stroke-width="1"/><line x1="183.5" y1="859.2" x2="183.5" y2="864.9" stroke="#8a0f0f" stroke-width="1"/><line x1="187.5" y1="859.2" x2="187.5" y2="857.9" stroke="#1fe01f" stroke-width="1"/><line x1="192.5" y1="859.2" x2="192.5" y2="854.6" stroke="#1fe01f" stroke-width="1"/><line x1="197.5" y1="859.2" x2="197.5" y2="863.5" stroke="#ff1a1a" stroke-width="1"/><line x1="201.5" y1="859.2" x2="201.5" y2="864.0" stroke="#ff1a1a" stroke-width="1"/><line x1="206.5" y1="859.2" x2="206.5" y2="864.9" stroke="#ff1a1a" stroke-width="1"/><line x1="211.5" y1="859.2" x2="211.5" y2="863.4" stroke="#8a0f0f" stroke-width="1"/><line x1="215.5" y1="859.2" x2="215.5" y2="856.6" stroke="#1fe01f" stroke-width="1"/><line x1="220.5" y1="859.2" x2="220.5" y2="852.6" stroke="#1fe01f" stroke-width="1"/><line x1="225.5" y1="859.2" x2="225.5" y2="854.3" stroke="#0f6f0f" stroke-width="1"/><line x1="230.5" y1="859.2" x2="230.5" y2="850.4" stroke="#1fe01f" stroke-width="1"/><line x1="234.5" y1="859.2" x2="234.5" y2="841.7" stroke="#1fe01f" stroke-width="1"/><line x1="239.5" y1="859.2" x2="239.5" y2="837.6" stroke="#1fe01f" stroke-width="1"/><line x1="244.5" y1="859.2" x2="244.5" y2="836.7" stroke="#1fe01f" stroke-width="1"/><line x1="248.5" y1="859.2" x2="248.5" y2="837.3" stroke="#0f6f0f" stroke-width="1"/><line x1="253.5" y1="859.2" x2="253.5" y2="834.8" stroke="#1fe01f" stroke-width="1"/><line x1="258.5" y1="859.2" x2="258.5" y2="833.3" stroke="#1fe01f" stroke-width="1"/><line x1="262.5" y1="859.2" x2="262.5" y2="834.4" stroke="#0f6f0f" stroke-width="1"/><line x1="267.5" y1="859.2" x2="267.5" y2="837.7" stroke="#0f6f0f" stroke-width="1"/><line x1="272.5" y1="859.2" x2="272.5" y2="839.5" stroke="#0f6f0f" stroke-width="1"/><line x1="277.5" y1="859.2" x2="277.5" y2="842.2" stroke="#0f6f0f" stroke-width="1"/><line x1="281.5" y1="859.2" x2="281.5" y2="845.0" stroke="#0f6f0f" stroke-width="1"/><line x1="286.5" y1="859.2" x2="286.5" y2="850.7" stroke="#0f6f0f" stroke-width="1"/><line x1="291.5" y1="859.2" x2="291.5" y2="855.1" stroke="#0f6f0f" stroke-width="1"/><line x1="295.5" y1="859.2" x2="295.5" y2="864.0" stroke="#ff1a1a" stroke-width="1"/><line x1="300.5" y1="859.2" x2="300.5" y2="865.7" stroke="#ff1a1a" stroke-width="1"/><line x1="305.5" y1="859.2" x2="305.5" y2="868.8" stroke="#ff1a1a" stroke-width="1"/><line x1="309.5" y1="859.2" x2="309.5" y2="874.8" stroke="#ff1a1a" stroke-width="1"/><line x1="314.5" y1="859.2" x2="314.5" y2="875.1" stroke="#ff1a1a" stroke-width="1"/><line x1="319.5" y1="859.2" x2="319.5" y2="878.8" stroke="#ff1a1a" stroke-width="1"/><line x1="324.5" y1="859.2" x2="324.5" y2="886.0" stroke="#ff1a1a" stroke-width="1"/><line x1="328.5" y1="859.2" x2="328.5" y2="885.0" stroke="#8a0f0f" stroke-width="1"/><line x1="333.5" y1="859.2" x2="333.5" y2="878.0" stroke="#8a0f0f" stroke-width="1"/><line x1="338.5" y1="859.2" x2="338.5" y2="872.9" stroke="#8a0f0f" stroke-width="1"/><line x1="342.5" y1="859.2" x2="342.5" y2="876.0" stroke="#ff1a1a" stroke-width="1"/><line x1="347.5" y1="859.2" x2="347.5" y2="873.1" stroke="#8a0f0f" stroke-width="1"/><line x1="352.5" y1="859.2" x2="352.5" y2="868.2" stroke="#8a0f0f" stroke-width="1"/><line x1="356.5" y1="859.2" x2="356.5" y2="859.5" stroke="#8a0f0f" stroke-width="1"/><line x1="361.5" y1="859.2" x2="361.5" y2="854.3" stroke="#1fe01f" stroke-width="1"/><line x1="366.5" y1="859.2" x2="366.5" y2="846.5" stroke="#1fe01f" stroke-width="1"/><line x1="371.5" y1="859.2" x2="371.5" y2="843.3" stroke="#1fe01f" stroke-width="1"/><line x1="375.5" y1="859.2" x2="375.5" y2="840.7" stroke="#1fe01f" stroke-width="1"/><line x1="380.5" y1="859.2" x2="380.5" y2="843.0" stroke="#0f6f0f" stroke-width="1"/><line x1="385.5" y1="859.2" x2="385.5" y2="841.8" stroke="#1fe01f" stroke-width="1"/><line x1="389.5" y1="859.2" x2="389.5" y2="844.8" stroke="#0f6f0f" stroke-width="1"/><line x1="394.5" y1="859.2" x2="394.5" y2="846.8" stroke="#0f6f0f" stroke-width="1"/><line x1="399.5" y1="859.2" x2="399.5" y2="845.6" stroke="#1fe01f" stroke-width="1"/><line x1="404.5" y1="859.2" x2="404.5" y2="842.9" stroke="#1fe01f" stroke-width="1"/><line x1="408.5" y1="859.2" x2="408.5" y2="838.5" stroke="#1fe01f" stroke-width="1"/><line x1="413.5" y1="859.2" x2="413.5" y2="839.4" stroke="#0f6f0f" stroke-width="1"/><line x1="418.5" y1="859.2" x2="418.5" y2="840.0" stroke="#0f6f0f" stroke-width="1"/><line x1="422.5" y1="859.2" x2="422.5" y2="842.0" stroke="#0f6f0f" stroke-width="1"/><line x1="427.5" y1="859.2" x2="427.5" y2="840.3" stroke="#1fe01f" stroke-width="1"/><line x1="432.5" y1="859.2" x2="432.5" y2="838.5" stroke="#1fe01f" stroke-width="1"/><line x1="436.5" y1="859.2" x2="436.5" y2="838.6" stroke="#0f6f0f" stroke-width="1"/><line x1="441.5" y1="859.2" x2="441.5" y2="841.4" stroke="#0f6f0f" stroke-width="1"/><line x1="446.5" y1="859.2" x2="446.5" y2="843.5" stroke="#0f6f0f" stroke-width="1"/><line x1="451.5" y1="859.2" x2="451.5" y2="844.3" stroke="#0f6f0f" stroke-width="1"/><line x1="455.5" y1="859.2" x2="455.5" y2="846.6" stroke="#0f6f0f" stroke-width="1"/><line x1="460.5" y1="859.2" x2="460.5" y2="848.3" stroke="#0f6f0f" stroke-width="1"/><line x1="465.5" y1="859.2" x2="465.5" y2="850.7" stroke="#0f6f0f" stroke-width="1"/><line x1="469.5" y1="859.2" x2="469.5" y2="853.6" stroke="#0f6f0f" stroke-width="1"/><line x1="474.5" y1="859.2" x2="474.5" y2="853.5" stroke="#1fe01f" stroke-width="1"/><line x1="479.5" y1="859.2" x2="479.5" y2="853.8" stroke="#0f6f0f" stroke-width="1"/><line x1="483.5" y1="859.2" x2="483.5" y2="854.3" stroke="#0f6f0f" stroke-width="1"/><line x1="488.5" y1="859.2" x2="488.5" y2="857.5" stroke="#0f6f0f" stroke-width="1"/><line x1="493.5" y1="859.2" x2="493.5" y2="861.1" stroke="#ff1a1a" stroke-width="1"/><line x1="498.5" y1="859.2" x2="498.5" y2="863.4" stroke="#ff1a1a" stroke-width="1"/><line x1="502.5" y1="859.2" x2="502.5" y2="860.0" stroke="#8a0f0f" stroke-width="1"/><line x1="507.5" y1="859.2" x2="507.5" y2="857.9" stroke="#1fe01f" stroke-width="1"/><line x1="512.5" y1="859.2" x2="512.5" y2="854.8" stroke="#1fe01f" stroke-width="1"/><line x1="516.5" y1="859.2" x2="516.5" y2="855.7" stroke="#0f6f0f" stroke-width="1"/><line x1="521.5" y1="859.2" x2="521.5" y2="861.5" stroke="#ff1a1a" stroke-width="1"/><line x1="526.5" y1="859.2" x2="526.5" y2="867.8" stroke="#ff1a1a" stroke-width="1"/><line x1="530.5" y1="859.2" x2="530.5" y2="870.0" stroke="#ff1a1a" stroke-width="1"/><line x1="535.5" y1="859.2" x2="535.5" y2="871.3" stroke="#ff1a1a" stroke-width="1"/><line x1="540.5" y1="859.2" x2="540.5" y2="868.1" stroke="#8a0f0f" stroke-width="1"/><line x1="545.5" y1="859.2" x2="545.5" y2="868.0" stroke="#8a0f0f" stroke-width="1"/><line x1="549.5" y1="859.2" x2="549.5" y2="868.2" stroke="#ff1a1a" stroke-width="1"/><line x1="554.5" y1="859.2" x2="554.5" y2="866.6" stroke="#8a0f0f" stroke-width="1"/><line x1="559.5" y1="859.2" x2="559.5" y2="863.5" stroke="#8a0f0f" stroke-width="1"/><line x1="563.5" y1="859.2" x2="563.5" y2="860.3" stroke="#8a0f0f" stroke-width="1"/><line x1="568.5" y1="859.2" x2="568.5" y2="855.2" stroke="#1fe01f" stroke-width="1"/><line x1="573.5" y1="859.2" x2="573.5" y2="852.5" stroke="#1fe01f" stroke-width="1"/><line x1="577.5" y1="859.2" x2="577.5" y2="851.5" stroke="#1fe01f" stroke-width="1"/><line x1="582.5" y1="859.2" x2="582.5" y2="849.0" stroke="#1fe01f" stroke-width="1"/><line x1="587.5" y1="859.2" x2="587.5" y2="846.9" stroke="#1fe01f" stroke-width="1"/><line x1="592.5" y1="859.2" x2="592.5" y2="845.8" stroke="#1fe01f" stroke-width="1"/><line x1="596.5" y1="859.2" x2="596.5" y2="846.4" stroke="#0f6f0f" stroke-width="1"/><line x1="601.5" y1="859.2" x2="601.5" y2="844.6" stroke="#1fe01f" stroke-width="1"/><line x1="606.5" y1="859.2" x2="606.5" y2="845.8" stroke="#0f6f0f" stroke-width="1"/></g><line x1="10" y1="859.5" x2="847" y2="859.5" stroke="#8a1ab0" stroke-width="1.4"/><polyline points="9.5,831.7 13.5,828.1 18.5,823.9 23.5,819.3 27.5,814.1 32.5,809.1 37.5,805.2 41.5,801.9 46.5,798.5 51.5,795.5 56.5,792.5 60.5,789.6 65.5,787.5 70.5,786.5 74.5,786.3 79.5,787.4 84.5,788.8 88.5,790.0 93.5,790.2 98.5,791.1 103.5,791.3 107.5,791.7 112.5,792.5 117.5,794.9 121.5,799.1 126.5,805.6 131.5,816.4 135.5,828.3 140.5,839.9 145.5,848.7 150.5,856.3 154.5,863.9 159.5,869.3 164.5,875.8 168.5,882.7 173.5,887.9 178.5,890.5 183.5,892.0 187.5,891.6 192.5,890.5 197.5,891.6 201.5,892.8 206.5,894.2 211.5,895.2 215.5,894.6 220.5,892.9 225.5,891.7 230.5,889.5 234.5,885.1 239.5,879.7 244.5,874.1 248.5,868.6 253.5,862.5 258.5,856.0 262.5,849.9 267.5,844.5 272.5,839.6 277.5,835.3 281.5,831.8 286.5,829.6 291.5,828.6 295.5,829.8 300.5,831.5 305.5,833.8 309.5,837.7 314.5,841.7 319.5,846.6 324.5,853.3 328.5,859.8 333.5,864.5 338.5,867.9 342.5,872.1 347.5,875.6 352.5,877.8 356.5,877.9 361.5,876.7 366.5,873.5 371.5,869.5 375.5,864.9 380.5,860.8 385.5,856.5 389.5,852.9 394.5,849.8 399.5,846.4 404.5,842.3 408.5,837.1 413.5,832.2 418.5,827.4 422.5,823.1 427.5,818.4 432.5,813.2 436.5,808.0 441.5,803.6 446.5,799.6 451.5,795.9 455.5,792.8 460.5,790.0 465.5,787.9 469.5,786.5 474.5,785.1 479.5,783.7 483.5,782.5 488.5,782.1 493.5,782.6 498.5,783.6 502.5,783.8 507.5,783.5 512.5,782.4 516.5,781.5 521.5,782.1 526.5,784.2 530.5,786.9 535.5,790.0 540.5,792.2 545.5,794.4 549.5,796.6 554.5,798.5 559.5,799.5 563.5,799.8 568.5,798.8 573.5,797.1 577.5,795.2 582.5,792.6 587.5,789.6 592.5,786.2 596.5,783.0 601.5,779.3 606.5,776.0" fill="none" stroke="#b03434" stroke-width="1.1" stroke-linejoin="round" /><polyline points="9.5,817.3 13.5,813.9 18.5,806.9 23.5,801.0 27.5,793.5 32.5,788.8 37.5,789.7 41.5,788.6 46.5,784.9 51.5,783.6 56.5,780.4 60.5,778.0 65.5,779.1 70.5,782.8 74.5,785.3 79.5,791.9 84.5,794.5 88.5,794.5 93.5,791.3 98.5,794.3 103.5,792.1 107.5,793.2 112.5,796.0 117.5,804.6 121.5,815.8 126.5,831.4 131.5,859.8 135.5,875.6 140.5,886.4 145.5,884.1 150.5,886.8 154.5,894.2 159.5,890.7 164.5,901.8 168.5,910.3 173.5,908.8 178.5,901.1 183.5,897.6 187.5,890.3 192.5,885.9 197.5,895.9 201.5,897.6 206.5,899.9 211.5,899.4 215.5,892.0 220.5,886.3 225.5,886.8 230.5,880.7 234.5,867.6 239.5,858.2 244.5,851.6 248.5,846.7 253.5,838.1 258.5,830.2 262.5,825.1 267.5,823.0 272.5,819.9 277.5,818.4 281.5,817.6 286.5,821.1 291.5,824.5 295.5,834.6 300.5,838.0 305.5,843.4 309.5,853.3 314.5,857.7 319.5,866.3 324.5,880.1 328.5,885.5 333.5,883.3 338.5,881.6 342.5,888.9 347.5,889.4 352.5,886.8 356.5,878.2 361.5,871.7 366.5,860.7 371.5,853.7 375.5,846.3 380.5,844.6 385.5,839.1 389.5,838.5 394.5,837.4 399.5,832.8 404.5,826.0 408.5,816.4 413.5,812.4 418.5,808.2 422.5,805.9 427.5,799.5 432.5,792.5 436.5,787.4 441.5,785.8 446.5,783.9 451.5,781.0 455.5,780.2 460.5,779.1 465.5,779.5 469.5,780.9 474.5,779.4 479.5,778.3 483.5,777.6 488.5,780.4 493.5,784.4 498.5,787.8 502.5,784.7 507.5,782.2 512.5,778.0 516.5,778.0 521.5,784.3 526.5,792.8 530.5,797.8 535.5,802.1 540.5,801.1 545.5,803.2 549.5,805.6 554.5,805.8 559.5,803.8 563.5,800.9 568.5,794.8 573.5,790.4 577.5,787.5 582.5,782.4 587.5,777.2 592.5,772.8 596.5,770.2 601.5,764.7 606.5,762.6" fill="none" stroke="#3a3a3a" stroke-width="1.1" stroke-linejoin="round" /></svg>
<div style="position:absolute;left:16.5px;top:924px;white-space:nowrap;font-size:15px;color:#6e6e78;line-height:18px;">Jul</div>
<div style="position:absolute;left:119.5px;top:924px;white-space:nowrap;font-size:15px;color:#6e6e78;line-height:18px;">Aug</div>
<div style="position:absolute;left:223px;top:924px;white-space:nowrap;font-size:15px;color:#6e6e78;line-height:18px;">Sep</div>
<div style="position:absolute;left:317.5px;top:924px;white-space:nowrap;font-size:15px;color:#6e6e78;line-height:18px;">Oct</div>
<div style="position:absolute;left:426.5px;top:924px;white-space:nowrap;font-size:15px;color:#6e6e78;line-height:18px;">Nov</div>
<div style="position:absolute;left:520.5px;top:924px;white-space:nowrap;font-size:15px;color:#6e6e78;line-height:18px;">Dec</div>
<div style="position:absolute;left:619.5px;top:924px;white-space:nowrap;font-size:15px;color:#6e6e78;line-height:18px;">20</div>
<div style="position:absolute;left:717.5px;top:924px;white-space:nowrap;font-size:15px;color:#6e6e78;line-height:18px;">Feb</div>
<div style="position:absolute;left:807.5px;top:924px;white-space:nowrap;font-size:15px;color:#6e6e78;line-height:18px;letter-spacing:0.8px;">Mar</div>
<div style="position:absolute;left:979.5px;top:924px;white-space:nowrap;font-size:15px;color:#6e6e78;line-height:18px;">Jul</div>
<div style="position:absolute;left:1082.5px;top:924px;white-space:nowrap;font-size:15px;color:#6e6e78;line-height:18px;">Aug</div>
<div style="position:absolute;left:1186px;top:924px;white-space:nowrap;font-size:15px;color:#6e6e78;line-height:18px;">Sep</div>
<div style="position:absolute;left:1280.5px;top:924px;white-space:nowrap;font-size:15px;color:#6e6e78;line-height:18px;">Oct</div>
<div style="position:absolute;left:1389.5px;top:924px;white-space:nowrap;font-size:15px;color:#6e6e78;line-height:18px;">Nov</div>
<div style="position:absolute;left:1483.5px;top:924px;white-space:nowrap;font-size:15px;color:#6e6e78;line-height:18px;">Dec</div>
<div style="position:absolute;left:1582.5px;top:924px;white-space:nowrap;font-size:15px;color:#6e6e78;line-height:18px;">20</div>
<div style="position:absolute;left:1680.5px;top:924px;white-space:nowrap;font-size:15px;color:#6e6e78;line-height:18px;">Feb</div>
<div style="position:absolute;left:1770.5px;top:924px;white-space:nowrap;font-size:15px;color:#6e6e78;line-height:18px;letter-spacing:0.8px;">Mar</div>
<div style="position:absolute;left:2px;top:942px;width:923px;height:5px;background:#ffffff"></div>
<div style="position:absolute;left:965px;top:942px;width:923px;height:5px;background:#ffffff"></div>
<div style="position:absolute;left:850px;top:355.17999999999995px;white-space:nowrap;font-size:14.5px;color:#6e6e74;line-height:18px">3200</div>
<div style="position:absolute;left:850px;top:393.71px;white-space:nowrap;font-size:14.5px;color:#6e6e74;line-height:18px">3150</div>
<div style="position:absolute;left:850px;top:432.23999999999995px;white-space:nowrap;font-size:14.5px;color:#6e6e74;line-height:18px">3100</div>
<div style="position:absolute;left:850px;top:470.77px;white-space:nowrap;font-size:14.5px;color:#6e6e74;line-height:18px">3050</div>
<div style="position:absolute;left:850px;top:509.29999999999995px;white-space:nowrap;font-size:14.5px;color:#6e6e74;line-height:18px">3000</div>
<div style="position:absolute;left:850px;top:547.8299999999999px;white-space:nowrap;font-size:14.5px;color:#6e6e74;line-height:18px">2950</div>
<div style="position:absolute;left:850px;top:586.3599999999999px;white-space:nowrap;font-size:14.5px;color:#6e6e74;line-height:18px">2900</div>
<div style="position:absolute;left:850px;top:624.89px;white-space:nowrap;font-size:14.5px;color:#6e6e74;line-height:18px">2850</div>
<div style="position:absolute;left:850px;top:663.42px;white-space:nowrap;font-size:14.5px;color:#6e6e74;line-height:18px">2800</div>
<div style="position:absolute;left:850px;top:739.95px;white-space:nowrap;font-size:14.5px;color:#6e6e74;line-height:18px">30</div>
<div style="position:absolute;left:850px;top:769.8px;white-space:nowrap;font-size:14.5px;color:#6e6e74;line-height:18px">20</div>
<div style="position:absolute;left:850px;top:799.65px;white-space:nowrap;font-size:14.5px;color:#6e6e74;line-height:18px">10</div>
<div style="position:absolute;left:850px;top:829.5px;white-space:nowrap;font-size:14.5px;color:#6e6e74;line-height:18px">0</div>
<div style="position:absolute;left:850px;top:859.35px;white-space:nowrap;font-size:14.5px;color:#6e6e74;line-height:18px">-10</div>
<div style="position:absolute;left:850px;top:889.2px;white-space:nowrap;font-size:14.5px;color:#6e6e74;line-height:18px">-20</div>
<div style="position:absolute;left:1813px;top:73.59999999999997px;white-space:nowrap;font-size:14.5px;color:#6e6e74;line-height:18px">10200</div>
<div style="position:absolute;left:1813px;top:120.14999999999998px;white-space:nowrap;font-size:14.5px;color:#6e6e74;line-height:18px">10000</div>
<div style="position:absolute;left:1813px;top:166.69999999999996px;white-space:nowrap;font-size:14.5px;color:#6e6e74;line-height:18px">9800</div>
<div style="position:absolute;left:1813px;top:213.24999999999997px;white-space:nowrap;font-size:14.5px;color:#6e6e74;line-height:18px">9600</div>
<div style="position:absolute;left:1813px;top:259.79999999999995px;white-space:nowrap;font-size:14.5px;color:#6e6e74;line-height:18px">9400</div>
<div style="position:absolute;left:1813px;top:306.34999999999997px;white-space:nowrap;font-size:14.5px;color:#6e6e74;line-height:18px">9200</div>
<div style="position:absolute;left:1813px;top:352.9px;white-space:nowrap;font-size:14.5px;color:#6e6e74;line-height:18px">9000</div>
<div style="position:absolute;left:1813px;top:399.45px;white-space:nowrap;font-size:14.5px;color:#6e6e74;line-height:18px">8800</div>
<div style="position:absolute;left:1813px;top:446.0px;white-space:nowrap;font-size:14.5px;color:#6e6e74;line-height:18px">8600</div>
<div style="position:absolute;left:1813px;top:492.54999999999995px;white-space:nowrap;font-size:14.5px;color:#6e6e74;line-height:18px">8400</div>
<div style="position:absolute;left:1813px;top:539.1px;white-space:nowrap;font-size:14.5px;color:#6e6e74;line-height:18px">8200</div>
<div style="position:absolute;left:1813px;top:585.65px;white-space:nowrap;font-size:14.5px;color:#6e6e74;line-height:18px">8000</div>
<div style="position:absolute;left:1813px;top:632.2px;white-space:nowrap;font-size:14.5px;color:#6e6e74;line-height:18px">7800</div>
<div style="position:absolute;left:1813px;top:678.75px;white-space:nowrap;font-size:14.5px;color:#6e6e74;line-height:18px">7600</div>
<div style="position:absolute;left:1813px;top:777.6px;white-space:nowrap;font-size:14.5px;color:#6e6e74;line-height:18px">100</div>
<div style="position:absolute;left:1813px;top:813.9000000000001px;white-space:nowrap;font-size:14.5px;color:#6e6e74;line-height:18px">50</div>
<div style="position:absolute;left:1813px;top:850.2px;white-space:nowrap;font-size:14.5px;color:#6e6e74;line-height:18px">0</div>
<div style="position:absolute;left:1813px;top:886.5px;white-space:nowrap;font-size:14.5px;color:#6e6e74;line-height:18px">-50</div>
<div style="position:absolute;left:2px;top:947px;width:623px;height:18px;background:#ebebeb"></div>
<div style="position:absolute;left:2px;top:947px;width:18px;height:18px;background:#e0e0e0"></div>
<svg style="position:absolute;left:8px;top:952px;" width="6" height="9" viewBox="0 0 6 9"><path d="M6 0 V9 L0 4.5 Z" fill="#555"/></svg>
<div style="position:absolute;left:592px;top:947px;width:35px;height:18px;background:#dcdcdc"></div>
<svg style="position:absolute;left:598px;top:952px;" width="5" height="9" viewBox="0 0 5 9"><path d="M5 0 V9 L0 4.5 Z" fill="#888"/></svg>
<svg style="position:absolute;left:615px;top:952px;" width="5" height="9" viewBox="0 0 5 9"><path d="M0 0 V9 L5 4.5 Z" fill="#888"/></svg>
<svg style="position:absolute;left:630px;top:949px;" width="21" height="12" viewBox="0 0 21 12"><path d="M0.5 6 L7 0 V12 Z" fill="#222"/><path d="M20.5 6 L14 0 V12 Z" fill="#222"/><rect x="8.6" y="2.5" width="1" height="7" fill="#222"/><rect x="10.1" y="2.5" width="1" height="7" fill="#222"/><rect x="11.6" y="2.5" width="1" height="7" fill="#222"/></svg>
<svg style="position:absolute;left:659px;top:948px;" width="17" height="17" viewBox="0 0 17 17"><circle cx="8.5" cy="8.5" r="7" fill="none" stroke="#222" stroke-width="1.4"/><line x1="8.5" y1="0" x2="8.5" y2="17" stroke="#222" stroke-width="1.4"/><line x1="0" y1="8.5" x2="17" y2="8.5" stroke="#222" stroke-width="1.4"/></svg>
<svg style="position:absolute;left:686px;top:944px;" width="22" height="22" viewBox="0 0 22 22"><circle cx="9" cy="9" r="7.9" fill="none" stroke="#222" stroke-width="1.6"/><line x1="14.6" y1="14.6" x2="21" y2="21" stroke="#222" stroke-width="2.2"/><line x1="5.5" y1="9" x2="12.5" y2="9" stroke="#222" stroke-width="1.6"/><line x1="9" y1="5.5" x2="9" y2="12.5" stroke="#222" stroke-width="1.6"/></svg>
<svg style="position:absolute;left:713px;top:944px;" width="22" height="22" viewBox="0 0 22 22"><circle cx="9" cy="9" r="7.9" fill="none" stroke="#9a9a9a" stroke-width="1.6"/><line x1="14.6" y1="14.6" x2="21" y2="21" stroke="#9a9a9a" stroke-width="2.2"/><line x1="5.5" y1="9" x2="12.5" y2="9" stroke="#9a9a9a" stroke-width="1.6"/></svg>
<svg style="position:absolute;left:741px;top:946px;" width="17" height="20" viewBox="0 0 17 20"><path d="M5 12 V2.2 Q5 0.6 6.3 0.6 Q7.6 0.6 7.6 2.2 V8.6 Q8 7.4 9.3 7.6 Q10.5 7.8 10.5 9.3 Q11 8.3 12.2 8.5 Q13.3 8.8 13.3 10.2 Q13.8 9.4 14.8 9.7 Q15.9 10.1 15.9 11.8 V15 Q15.9 19.2 12.5 19.2 H7.6 Q6 19.2 5 17.6 L1.3 12.8 Q0.5 11.6 1.6 10.9 Q2.7 10.3 3.6 11.3 Z" fill="none" stroke="#222" stroke-width="1.3" stroke-linejoin="round"/></svg>
<div style="position:absolute;left:780px;top:947px;white-space:nowrap;font-size:14.7px;color:#222;line-height:18px">Drawing set: Default</div>
<svg style="position:absolute;left:916px;top:959px;" width="6" height="5" viewBox="0 0 6 5"><path d="M5.5 0 V5 H0 Z" fill="#222"/></svg>
<div style="position:absolute;left:965px;top:947px;width:623px;height:18px;background:#ebebeb"></div>
<div style="position:absolute;left:965px;top:947px;width:18px;height:18px;background:#e0e0e0"></div>
<svg style="position:absolute;left:971px;top:952px;" width="6" height="9" viewBox="0 0 6 9"><path d="M6 0 V9 L0 4.5 Z" fill="#555"/></svg>
<div style="position:absolute;left:983px;top:947px;width:570px;height:18px;background:#c8c8c8"></div>
<div style="position:absolute;left:1262.5px;top:952px;width:1.2px;height:8px;background:#555"></div>
<div style="position:absolute;left:1265.1px;top:952px;width:1.2px;height:8px;background:#555"></div>
<div style="position:absolute;left:1267.7px;top:952px;width:1.2px;height:8px;background:#555"></div>
<div style="position:absolute;left:1555px;top:947px;width:35px;height:18px;background:#dcdcdc"></div>
<svg style="position:absolute;left:1561px;top:952px;" width="5" height="9" viewBox="0 0 5 9"><path d="M5 0 V9 L0 4.5 Z" fill="#888"/></svg>
<svg style="position:absolute;left:1578px;top:952px;" width="5" height="9" viewBox="0 0 5 9"><path d="M0 0 V9 L5 4.5 Z" fill="#888"/></svg>
<svg style="position:absolute;left:1593px;top:949px;" width="21" height="12" viewBox="0 0 21 12"><path d="M0.5 6 L7 0 V12 Z" fill="#222"/><path d="M20.5 6 L14 0 V12 Z" fill="#222"/><rect x="8.6" y="2.5" width="1" height="7" fill="#222"/><rect x="10.1" y="2.5" width="1" height="7" fill="#222"/><rect x="11.6" y="2.5" width="1" height="7" fill="#222"/></svg>
<svg style="position:absolute;left:1622px;top:948px;" width="17" height="17" viewBox="0 0 17 17"><circle cx="8.5" cy="8.5" r="7" fill="none" stroke="#222" stroke-width="1.4"/><line x1="8.5" y1="0" x2="8.5" y2="17" stroke="#222" stroke-width="1.4"/><line x1="0" y1="8.5" x2="17" y2="8.5" stroke="#222" stroke-width="1.4"/></svg>
<svg style="position:absolute;left:1649px;top:944px;" width="22" height="22" viewBox="0 0 22 22"><circle cx="9" cy="9" r="7.9" fill="none" stroke="#222" stroke-width="1.6"/><line x1="14.6" y1="14.6" x2="21" y2="21" stroke="#222" stroke-width="2.2"/><line x1="5.5" y1="9" x2="12.5" y2="9" stroke="#222" stroke-width="1.6"/><line x1="9" y1="5.5" x2="9" y2="12.5" stroke="#222" stroke-width="1.6"/></svg>
<svg style="position:absolute;left:1676px;top:944px;" width="22" height="22" viewBox="0 0 22 22"><circle cx="9" cy="9" r="7.9" fill="none" stroke="#222" stroke-width="1.6"/><line x1="14.6" y1="14.6" x2="21" y2="21" stroke="#222" stroke-width="2.2"/><line x1="5.5" y1="9" x2="12.5" y2="9" stroke="#222" stroke-width="1.6"/></svg>
<svg style="position:absolute;left:1704px;top:946px;" width="17" height="20" viewBox="0 0 17 20"><path d="M5 12 V2.2 Q5 0.6 6.3 0.6 Q7.6 0.6 7.6 2.2 V8.6 Q8 7.4 9.3 7.6 Q10.5 7.8 10.5 9.3 Q11 8.3 12.2 8.5 Q13.3 8.8 13.3 10.2 Q13.8 9.4 14.8 9.7 Q15.9 10.1 15.9 11.8 V15 Q15.9 19.2 12.5 19.2 H7.6 Q6 19.2 5 17.6 L1.3 12.8 Q0.5 11.6 1.6 10.9 Q2.7 10.3 3.6 11.3 Z" fill="none" stroke="#222" stroke-width="1.3" stroke-linejoin="round"/></svg>
<div style="position:absolute;left:1743px;top:947px;white-space:nowrap;font-size:14.7px;color:#222;line-height:18px">Drawing set: Default</div>
<svg style="position:absolute;left:1879px;top:959px;" width="6" height="5" viewBox="0 0 6 5"><path d="M5.5 0 V5 H0 Z" fill="#222"/></svg>
<div style="position:absolute;left:0px;top:970px;width:957px;height:2px;background:#d6d6d6"></div>
<div style="position:absolute;left:963px;top:970px;width:957px;height:2px;background:#97d9f8"></div>
<div style="position:absolute;left:925px;top:33px;width:30px;height:936px;background:#a9a9a9"></div><div style="position:absolute;left:926px;top:34px;width:27px;height:65px;background:#b4b4b4;border-right:1px solid #a0a0a0"></div><div style="position:absolute;left:940px;top:72.0px;width:0;height:0"><div style="position:absolute;transform:translate(-50%,-50%) rotate(-90deg);white-space:nowrap;font-size:15px;color:#2a2a2a;line-height:16px">Trade</div></div><div style="position:absolute;left:926px;top:101px;width:27px;height:138px;background:#b4b4b4;border-right:1px solid #a0a0a0"></div><div style="position:absolute;left:940px;top:175.5px;width:0;height:0"><div style="position:absolute;transform:translate(-50%,-50%) rotate(-90deg);white-space:nowrap;font-size:15px;color:#2a2a2a;line-height:16px">Times And Sales</div></div><div style="position:absolute;left:926px;top:241px;width:27px;height:113px;background:#b4b4b4;border-right:1px solid #a0a0a0"></div><div style="position:absolute;left:940px;top:303.0px;width:0;height:0"><div style="position:absolute;transform:translate(-50%,-50%) rotate(-90deg);white-space:nowrap;font-size:15px;color:#2a2a2a;line-height:16px">Active Trader</div></div><div style="position:absolute;left:926px;top:356px;width:27px;height:101px;background:#b4b4b4;border-right:1px solid #a0a0a0"></div><div style="position:absolute;left:940px;top:412.0px;width:0;height:0"><div style="position:absolute;transform:translate(-50%,-50%) rotate(-90deg);white-space:nowrap;font-size:15px;color:#2a2a2a;line-height:16px">Big Buttons</div></div><div style="position:absolute;left:926px;top:459px;width:27px;height:62px;background:#f4f4f4;border-right:1px solid #e0e0e0"></div><div style="position:absolute;left:940px;top:495.5px;width:0;height:0"><div style="position:absolute;transform:translate(-50%,-50%) rotate(-90deg);white-space:nowrap;font-size:15px;color:#2a2a2a;line-height:16px">Chart</div></div><div style="position:absolute;left:926px;top:523px;width:27px;height:121px;background:#b4b4b4;border-right:1px solid #a0a0a0"></div><div style="position:absolute;left:940px;top:589.0px;width:0;height:0"><div style="position:absolute;transform:translate(-50%,-50%) rotate(-90deg);white-space:nowrap;font-size:15px;color:#2a2a2a;line-height:16px">Phase Scores</div></div><div style="position:absolute;left:926px;top:646px;width:27px;height:98px;background:#b4b4b4;border-right:1px solid #a0a0a0"></div><div style="position:absolute;left:940px;top:700.5px;width:0;height:0"><div style="position:absolute;transform:translate(-50%,-50%) rotate(-90deg);white-space:nowrap;font-size:15px;color:#2a2a2a;line-height:16px">Dashboard</div></div><div style="position:absolute;left:926px;top:746px;width:27px;height:73px;background:#b4b4b4;border-right:1px solid #a0a0a0"></div><div style="position:absolute;left:940px;top:788.0px;width:0;height:0"><div style="position:absolute;transform:translate(-50%,-50%) rotate(-90deg);white-space:nowrap;font-size:15px;color:#2a2a2a;line-height:16px">Level II</div></div><div style="position:absolute;left:926px;top:821px;width:27px;height:94px;background:#b4b4b4;border-right:1px solid #a0a0a0"></div><div style="position:absolute;left:940px;top:873.5px;width:0;height:0"><div style="position:absolute;transform:translate(-50%,-50%) rotate(-90deg);white-space:nowrap;font-size:15px;color:#2a2a2a;line-height:16px">Live News</div></div><div style="position:absolute;left:926px;top:917px;width:27px;height:51px;background:#b4b4b4;border-right:1px solid #a0a0a0"></div>
<div style="position:absolute;left:1888px;top:33px;width:30px;height:936px;background:#a9a9a9"></div><div style="position:absolute;left:1889px;top:34px;width:27px;height:65px;background:#b4b4b4;border-right:1px solid #a0a0a0"></div><div style="position:absolute;left:1903px;top:72.0px;width:0;height:0"><div style="position:absolute;transform:translate(-50%,-50%) rotate(-90deg);white-space:nowrap;font-size:15px;color:#2a2a2a;line-height:16px">Trade</div></div><div style="position:absolute;left:1889px;top:101px;width:27px;height:138px;background:#b4b4b4;border-right:1px solid #a0a0a0"></div><div style="position:absolute;left:1903px;top:175.5px;width:0;height:0"><div style="position:absolute;transform:translate(-50%,-50%) rotate(-90deg);white-space:nowrap;font-size:15px;color:#2a2a2a;line-height:16px">Times And Sales</div></div><div style="position:absolute;left:1889px;top:241px;width:27px;height:113px;background:#b4b4b4;border-right:1px solid #a0a0a0"></div><div style="position:absolute;left:1903px;top:303.0px;width:0;height:0"><div style="position:absolute;transform:translate(-50%,-50%) rotate(-90deg);white-space:nowrap;font-size:15px;color:#2a2a2a;line-height:16px">Active Trader</div></div><div style="position:absolute;left:1889px;top:356px;width:27px;height:101px;background:#b4b4b4;border-right:1px solid #a0a0a0"></div><div style="position:absolute;left:1903px;top:412.0px;width:0;height:0"><div style="position:absolute;transform:translate(-50%,-50%) rotate(-90deg);white-space:nowrap;font-size:15px;color:#2a2a2a;line-height:16px">Big Buttons</div></div><div style="position:absolute;left:1889px;top:459px;width:27px;height:62px;background:#f4f4f4;border-right:1px solid #e0e0e0"></div><div style="position:absolute;left:1903px;top:495.5px;width:0;height:0"><div style="position:absolute;transform:translate(-50%,-50%) rotate(-90deg);white-space:nowrap;font-size:15px;color:#2a2a2a;line-height:16px">Chart</div></div><div style="position:absolute;left:1889px;top:523px;width:27px;height:121px;background:#b4b4b4;border-right:1px solid #a0a0a0"></div><div style="position:absolute;left:1903px;top:589.0px;width:0;height:0"><div style="position:absolute;transform:translate(-50%,-50%) rotate(-90deg);white-space:nowrap;font-size:15px;color:#2a2a2a;line-height:16px">Phase Scores</div></div><div style="position:absolute;left:1889px;top:646px;width:27px;height:98px;background:#b4b4b4;border-right:1px solid #a0a0a0"></div><div style="position:absolute;left:1903px;top:700.5px;width:0;height:0"><div style="position:absolute;transform:translate(-50%,-50%) rotate(-90deg);white-space:nowrap;font-size:15px;color:#2a2a2a;line-height:16px">Dashboard</div></div><div style="position:absolute;left:1889px;top:746px;width:27px;height:73px;background:#b4b4b4;border-right:1px solid #a0a0a0"></div><div style="position:absolute;left:1903px;top:788.0px;width:0;height:0"><div style="position:absolute;transform:translate(-50%,-50%) rotate(-90deg);white-space:nowrap;font-size:15px;color:#2a2a2a;line-height:16px">Level II</div></div><div style="position:absolute;left:1889px;top:821px;width:27px;height:94px;background:#b4b4b4;border-right:1px solid #a0a0a0"></div><div style="position:absolute;left:1903px;top:873.5px;width:0;height:0"><div style="position:absolute;transform:translate(-50%,-50%) rotate(-90deg);white-space:nowrap;font-size:15px;color:#2a2a2a;line-height:16px">Live News</div></div><div style="position:absolute;left:1889px;top:917px;width:27px;height:51px;background:#b4b4b4;border-right:1px solid #a0a0a0"></div>
<div style="position:absolute;left:17px;top:88px;white-space:nowrap;font-size:15px;line-height:19px;color:#333">Qty:</div>
<div style="position:absolute;left:51px;top:78px;width:99px;height:37px;border:2px solid #b4b4b4;border-radius:4px;background:#fafafa"></div>
<div style="position:absolute;left:89px;top:88px;white-space:nowrap;font-size:15px;line-height:19px;color:#222">+10</div>
<div style="position:absolute;left:123px;top:82px;width:23px;height:12px;background:#b3b3b3;border-radius:2px"></div>
<div style="position:absolute;left:123px;top:97px;width:23px;height:14px;background:#b3b3b3;border-radius:2px"></div>
<svg style="position:absolute;left:129px;top:83px;" width="11" height="10" viewBox="0 0 11 10"><path d="M5.5 1 V9 M1.5 5 H9.5" stroke="#222" stroke-width="2.4"/></svg>
<svg style="position:absolute;left:129px;top:101px;" width="11" height="6" viewBox="0 0 11 6"><path d="M1.5 3 H9.5" stroke="#222" stroke-width="2.4"/></svg>
<div style="position:absolute;left:173px;top:90px;width:15px;height:15px;border:2px solid #444;border-radius:3px;background:#e4e4e4"></div>
<div style="position:absolute;left:197px;top:88px;white-space:nowrap;font-size:14.7px;line-height:19px;color:#333">auto send</div>
<div style="position:absolute;left:281px;top:80px;width:119px;height:34px;background:#079270;border-radius:3px"></div>
<div style="position:absolute;left:281px;top:80.5px;white-space:nowrap;width:119px;text-align:center;font-size:14.7px;font-weight:bold;line-height:34px;color:#8fd9a8">Buy the Ask</div>
<div style="position:absolute;left:419px;top:80px;width:114px;height:34px;background:#c82224;border-radius:3px"></div>
<div style="position:absolute;left:419px;top:80.5px;white-space:nowrap;width:114px;text-align:center;font-size:14.7px;font-weight:bold;line-height:34px;color:#eba3a3">Sell the Bid</div>
<div style="position:absolute;left:4.5px;top:128px;width:90.5px;height:25px;box-sizing:border-box;border:1px solid #cdcdcd;border-right:none;background:#f6f6f6;font-size:14.5px;line-height:25px;padding-left:3.5px;white-space:nowrap;overflow:hidden;font-size:14.8px"><b style="color:#111">SPX 6 M 1D</b></div><div style="position:absolute;left:95.0px;top:128px;width:84px;height:25px;box-sizing:border-box;border:1px solid #cdcdcd;border-right:none;background:#f6f6f6;font-size:14.5px;line-height:25px;padding-left:3.5px;white-space:nowrap;overflow:hidden;">D: 12/27/19</div><div style="position:absolute;left:179.0px;top:128px;width:81.7px;height:25px;box-sizing:border-box;border:1px solid #cdcdcd;border-right:none;background:#f6f6f6;font-size:14.5px;line-height:25px;padding-left:3.5px;white-space:nowrap;overflow:hidden;">O: 3247.23</div><div style="position:absolute;left:260.7px;top:128px;width:79.9px;height:25px;box-sizing:border-box;border:1px solid #cdcdcd;border-right:none;background:#f6f6f6;font-size:14.5px;line-height:25px;padding-left:3.5px;white-space:nowrap;overflow:hidden;">H: 3247.93</div><div style="position:absolute;left:340.6px;top:128px;width:76.8px;height:25px;box-sizing:border-box;border:1px solid #cdcdcd;border-right:none;background:#f6f6f6;font-size:14.5px;line-height:25px;padding-left:3.5px;white-space:nowrap;overflow:hidden;">L: 3234.37</div><div style="position:absolute;left:417.40000000000003px;top:128px;width:79.7px;height:25px;box-sizing:border-box;border:1px solid #cdcdcd;border-right:none;background:#f6f6f6;font-size:14.5px;line-height:25px;padding-left:3.5px;white-space:nowrap;overflow:hidden;">C: 3240.02</div><div style="position:absolute;left:497.1px;top:128px;width:64.5px;height:25px;box-sizing:border-box;border:1px solid #cdcdcd;border-right:none;background:#f6f6f6;font-size:14.5px;line-height:25px;padding-left:3.5px;white-space:nowrap;overflow:hidden;">R: 13.56</div><div style="position:absolute;left:561.6px;top:128px;width:300px;height:25px;box-sizing:border-box;border:1px solid #cdcdcd;border-right:none;background:#f6f6f6;font-size:14.5px;line-height:25px;padding-left:3.5px;white-space:nowrap;overflow:hidden;color:#1a3fa8">SimpleMovingAvg (CLOSE, 50, 0, no)</div>
<div style="position:absolute;left:963.5999999999999px;top:33px;width:91px;height:24px;box-sizing:border-box;border:1px solid #cdcdcd;border-right:none;background:#f6f6f6;font-size:14.5px;line-height:24px;padding-left:3.5px;white-space:nowrap;overflow:hidden;font-size:14.8px"><b style="color:#111">COMP 6 M 1D</b></div><div style="position:absolute;left:1054.6px;top:33px;width:84px;height:24px;box-sizing:border-box;border:1px solid #cdcdcd;border-right:none;background:#f6f6f6;font-size:14.5px;line-height:24px;padding-left:3.5px;white-space:nowrap;overflow:hidden;">D: 12/27/19</div><div style="position:absolute;left:1138.6px;top:33px;width:80px;height:24px;box-sizing:border-box;border:1px solid #cdcdcd;border-right:none;background:#f6f6f6;font-size:14.5px;line-height:24px;padding-left:3.5px;white-space:nowrap;overflow:hidden;">O: 9049.47</div><div style="position:absolute;left:1218.6px;top:33px;width:80px;height:24px;box-sizing:border-box;border:1px solid #cdcdcd;border-right:none;background:#f6f6f6;font-size:14.5px;line-height:24px;padding-left:3.5px;white-space:nowrap;overflow:hidden;">H: 9052.00</div><div style="position:absolute;left:1298.6px;top:33px;width:78px;height:24px;box-sizing:border-box;border:1px solid #cdcdcd;border-right:none;background:#f6f6f6;font-size:14.5px;line-height:24px;padding-left:3.5px;white-space:nowrap;overflow:hidden;">L: 8987.32</div><div style="position:absolute;left:1376.6px;top:33px;width:79.8px;height:24px;box-sizing:border-box;border:1px solid #cdcdcd;border-right:none;background:#f6f6f6;font-size:14.5px;line-height:24px;padding-left:3.5px;white-space:nowrap;overflow:hidden;">C: 9006.62</div><div style="position:absolute;left:1456.3999999999999px;top:33px;width:63.9px;height:24px;box-sizing:border-box;border:1px solid #cdcdcd;border-right:none;background:#f6f6f6;font-size:14.5px;line-height:24px;padding-left:3.5px;white-space:nowrap;overflow:hidden;">R: 64.68</div><div style="position:absolute;left:1520.3px;top:33px;width:256.6px;height:24px;box-sizing:border-box;border:1px solid #cdcdcd;border-right:none;background:#f6f6f6;font-size:14.5px;line-height:24px;padding-left:3.5px;white-space:nowrap;overflow:hidden;color:#1a3fa8">SimpleMovingAvg (CLOSE, 50, 0, no)</div><div style="position:absolute;left:1776.9px;top:33px;width:33px;height:24px;box-sizing:border-box;border:1px solid #cdcdcd;border-right:none;background:#f6f6f6;font-size:14.5px;line-height:24px;padding-left:3.5px;white-space:nowrap;overflow:hidden;"><b>...</b></div>
<svg style="position:absolute;left:1815px;top:35px;" width="22" height="22" viewBox="0 0 22 22"><path d="M2.2 1.8 L8.6 7.8" stroke="#222" stroke-width="1.5"/><path d="M1.6 7.6 H9 V1 Z" fill="#222"/><path d="M1.6 13.4 C3 18 6.5 17.5 9.5 13 C12.5 8.2 15 5.2 18 6.2 C20 7 21 8.5 20.8 9.6" fill="none" stroke="#222" stroke-width="1.4"/><path d="M14 14.4 L20.6 20.6" stroke="#222" stroke-width="1.5"/><path d="M14 14.2 H21 L14 20.5 Z" fill="#222"/></svg>
<div style="position:absolute;left:4px;top:697px;width:261px;height:25px;box-sizing:border-box;border:1px solid #cdcdcd;border-right:none;background:#f6f6f6;font-size:14.5px;line-height:25px;padding-left:3.5px;white-space:nowrap;overflow:hidden;font-size:14.85px">MACD (12, 26, 9, EXPONENTIAL, no)</div><div style="position:absolute;left:265px;top:697px;width:61px;height:25px;box-sizing:border-box;border:1px solid #cdcdcd;border-right:none;background:#f6f6f6;font-size:14.5px;line-height:25px;padding-left:3.5px;white-space:nowrap;overflow:hidden;">36.9324</div><div style="position:absolute;left:326px;top:697px;width:61px;height:25px;box-sizing:border-box;border:1px solid #cdcdcd;border-right:none;background:#f6f6f6;font-size:14.5px;line-height:25px;padding-left:3.5px;white-space:nowrap;overflow:hidden;color:#b03434">32.3857</div><div style="position:absolute;left:387px;top:697px;width:53px;height:25px;box-sizing:border-box;border:1px solid #cdcdcd;border-right:none;background:#f6f6f6;font-size:14.5px;line-height:25px;padding-left:3.5px;white-space:nowrap;overflow:hidden;color:#1b7a1b">4.5467</div><div style="position:absolute;left:440px;top:697px;width:17px;height:25px;box-sizing:border-box;border:1px solid #cdcdcd;border-right:none;background:#f6f6f6;font-size:14.5px;line-height:25px;padding-left:3.5px;white-space:nowrap;overflow:hidden;color:#7a1ab0">0</div>
<div style="position:absolute;left:457px;top:697px;width:390.5px;height:25px;border:1px solid #cdcdcd;background:#f3f3f3"></div>
<div style="position:absolute;left:967px;top:727px;width:261.7px;height:25px;box-sizing:border-box;border:1px solid #cdcdcd;border-right:none;background:#f6f6f6;font-size:14.5px;line-height:25px;padding-left:3.5px;white-space:nowrap;overflow:hidden;font-size:14.85px">MACD (12, 26, 9, EXPONENTIAL, no)</div><div style="position:absolute;left:1228.7px;top:727px;width:61px;height:25px;box-sizing:border-box;border:1px solid #cdcdcd;border-right:none;background:#f6f6f6;font-size:14.5px;line-height:25px;padding-left:3.5px;white-space:nowrap;overflow:hidden;">133.076</div><div style="position:absolute;left:1289.7px;top:727px;width:61px;height:25px;box-sizing:border-box;border:1px solid #cdcdcd;border-right:none;background:#f6f6f6;font-size:14.5px;line-height:25px;padding-left:3.5px;white-space:nowrap;overflow:hidden;color:#b03434">114.847</div><div style="position:absolute;left:1350.7px;top:727px;width:61px;height:25px;box-sizing:border-box;border:1px solid #cdcdcd;border-right:none;background:#f6f6f6;font-size:14.5px;line-height:25px;padding-left:3.5px;white-space:nowrap;overflow:hidden;color:#1b7a1b">18.2292</div><div style="position:absolute;left:1411.7px;top:727px;width:17px;height:25px;box-sizing:border-box;border:1px solid #cdcdcd;border-right:none;background:#f6f6f6;font-size:14.5px;line-height:25px;padding-left:3.5px;white-space:nowrap;overflow:hidden;color:#7a1ab0">0</div>
<div style="position:absolute;left:1428.7px;top:727px;width:381.79999999999995px;height:25px;border:1px solid #cdcdcd;background:#f3f3f3"></div>
<div style="position:absolute;left:849px;top:346px;height:17px;width:60px;background:#3c9a14;color:#fff;border-radius:4px;font-size:15px;line-height:17px;text-align:center;white-space:nowrap;letter-spacing:-0.2px">3209.78</div>
<div style="position:absolute;left:849px;top:422px;height:17px;width:60px;background:#12389c;color:#fff;border-radius:4px;font-size:15px;line-height:17px;text-align:center;white-space:nowrap;letter-spacing:-0.2px">3110.85</div>
<div style="position:absolute;left:849px;top:536px;height:17px;width:60px;background:#2e2e2e;color:#fff;border-radius:4px;font-size:15px;line-height:17px;text-align:center;white-space:nowrap;letter-spacing:-0.2px">2963.86</div>
<div style="position:absolute;left:849px;top:815px;height:17px;width:52px;background:#065f06;color:#fff;border-radius:4px;font-size:15px;line-height:17px;text-align:center;white-space:nowrap;letter-spacing:-0.2px">4.5467</div>
<div style="position:absolute;left:1813px;top:350px;height:17px;width:60px;background:#2e2e2e;color:#fff;border-radius:4px;font-size:15px;line-height:17px;text-align:center;white-space:nowrap;letter-spacing:-0.2px">9006.62</div>
<div style="position:absolute;left:1813px;top:376px;height:17px;width:60px;background:#3c9a14;color:#fff;border-radius:4px;font-size:15px;line-height:17px;text-align:center;white-space:nowrap;letter-spacing:-0.2px">8893.99</div>
<div style="position:absolute;left:1813px;top:459px;height:17px;width:52px;background:#12389c;color:#fff;border-radius:4px;font-size:15px;line-height:17px;text-align:center;white-space:nowrap;letter-spacing:-0.2px">8540.9</div>
<div style="position:absolute;left:1813px;top:562px;height:17px;width:60px;background:#2e2e2e;color:#fff;border-radius:4px;font-size:15px;line-height:17px;text-align:center;white-space:nowrap;letter-spacing:-0.2px">8098.71</div>
<div style="position:absolute;left:1813px;top:752px;height:17px;width:60px;background:#2e2e2e;color:#fff;border-radius:4px;font-size:15px;line-height:17px;text-align:center;white-space:nowrap;letter-spacing:-0.2px">133.076</div>
<div style="position:absolute;left:1813px;top:835px;height:17px;width:60px;background:#065f06;color:#fff;border-radius:4px;font-size:15px;line-height:17px;text-align:center;white-space:nowrap;letter-spacing:-0.2px">18.2292</div>
<div style="position:absolute;left:602px;top:295px;width:87px;height:25px;box-sizing:border-box;background:#d9d9d9;border:1px solid #a0a0a0;border-radius:6px;font-size:14.6px;line-height:24px;padding-left:5px;color:#111;white-space:nowrap">Hi: 3247.93</div><svg style="position:absolute;left:0;top:0;overflow:visible" width="1" height="1"><polygon points="606.5,327 611,319 615,319" fill="#d9d9d9"/><polyline points="611,319 606.5,327 615,319" fill="none" stroke="#a0a0a0" stroke-width="1"/></svg>
<div style="position:absolute;left:126px;top:663px;width:88.5px;height:25px;box-sizing:border-box;background:#d9d9d9;border:1px solid #a0a0a0;border-radius:6px;font-size:14.6px;line-height:24px;padding-left:5px;color:#111;white-space:nowrap">Lo: 2822.12</div><svg style="position:absolute;left:0;top:0;overflow:visible" width="1" height="1"><polygon points="131,655 135,664 139,664" fill="#d9d9d9"/><polyline points="135,664 131,655 139,664" fill="none" stroke="#a0a0a0" stroke-width="1"/></svg>
<div style="position:absolute;left:1565px;top:318px;width:67px;height:25px;box-sizing:border-box;background:#d9d9d9;border:1px solid #a0a0a0;border-radius:6px;font-size:14.6px;line-height:24px;padding-left:5px;color:#111;white-space:nowrap">Hi: 9052</div><svg style="position:absolute;left:0;top:0;overflow:visible" width="1" height="1"><polygon points="1570.5,350 1574,342 1578,342" fill="#d9d9d9"/><polyline points="1574,342 1570.5,350 1578,342" fill="none" stroke="#a0a0a0" stroke-width="1"/></svg>
<div style="position:absolute;left:1089px;top:681px;width:81px;height:25px;box-sizing:border-box;background:#d9d9d9;border:1px solid #a0a0a0;border-radius:6px;font-size:14.6px;line-height:24px;padding-left:5px;color:#111;white-space:nowrap">Lo: 7662.9</div><svg style="position:absolute;left:0;top:0;overflow:visible" width="1" height="1"><polygon points="1094.5,673 1098,682 1102,682" fill="#d9d9d9"/><polyline points="1098,682 1094.5,673 1102,682" fill="none" stroke="#a0a0a0" stroke-width="1"/></svg>
<svg style="position:absolute;left:0;top:0" width="1920" height="972"><ellipse cx="597.5" cy="742" rx="57.5" ry="49" fill="#b4e21e"/><line x1="547.5" y1="721.5" x2="642.5" y2="721.5" stroke="#b8b8a0" stroke-width="1"/><polyline points="559.5,769.3 563.5,769.1 568.5,767.4 573.5,765.0 577.5,762.5 582.5,759.5 587.5,755.9 592.5,752.2 596.5,748.8 601.5,745.1 606.5,741.8" fill="none" stroke="#d85a8a" stroke-width="1.1"/><polyline points="559.5,771.4 563.5,768.0 568.5,760.6 573.5,755.4 577.5,752.5 582.5,747.7 587.5,741.5 592.5,737.1 596.5,735.1 601.5,730.5 606.5,728.4" fill="none" stroke="#4a5aa0" stroke-width="1.1"/></svg>
<svg style="position:absolute;left:0;top:0" width="1920" height="972"><ellipse cx="1570" cy="774" rx="57.3" ry="48" fill="#b4e21e"/><line x1="1520" y1="751.5" x2="1615" y2="751.5" stroke="#b8b8a0" stroke-width="1"/><polyline points="1522.5,799.5 1526.5,799.8 1531.5,798.8 1536.5,797.1 1540.5,795.2 1545.5,792.6 1550.5,789.6 1555.5,786.2 1559.5,783.0 1564.5,779.3 1569.5,776.0" fill="none" stroke="#d85a8a" stroke-width="1.1"/><polyline points="1522.5,803.8 1526.5,800.9 1531.5,794.8 1536.5,790.4 1540.5,787.5 1545.5,782.4 1550.5,777.2 1555.5,772.8 1559.5,770.2 1564.5,764.7 1569.5,762.6" fill="none" stroke="#4a5aa0" stroke-width="1.1"/></svg>
<div style="position:absolute;left:7.5px;top:156px;width:176.5px;height:163px;background:#ffffff"></div>
<div style="position:absolute;left:13px;top:162px;width:164px;height:154px;background:#000"></div>
<svg style="position:absolute;left:17px;top:166px" width="156" height="146" viewBox="0 0 156 146"><defs><filter id="bl" x="-30%" y="-30%" width="160%" height="160%"><feGaussianBlur stdDeviation="8"/></filter><filter id="bl2" x="-30%" y="-30%" width="160%" height="160%"><feGaussianBlur stdDeviation="3"/></filter><filter id="bl3"><feGaussianBlur stdDeviation="1.2"/></filter><linearGradient id="hn" x1="0" y1="0" x2="1" y2="0"><stop offset="0" stop-color="#deded6"/><stop offset="1" stop-color="#9a9a94"/></linearGradient><linearGradient id="hn2" x1="1" y1="0" x2="0" y2="0"><stop offset="0" stop-color="#deded6"/><stop offset="1" stop-color="#9a9a94"/></linearGradient></defs><rect width="156" height="146" fill="#1a1a18"/><g filter="url(#bl)"><ellipse cx="10" cy="78" rx="30" ry="34" fill="#9c9c94"/><ellipse cx="142" cy="48" rx="30" ry="26" fill="#5c5c56"/><ellipse cx="150" cy="95" rx="14" ry="30" fill="#3a3a36"/><ellipse cx="60" cy="-2" rx="90" ry="16" fill="#000"/><ellipse cx="120" cy="10" rx="40" ry="14" fill="#2a2a28"/><ellipse cx="14" cy="132" rx="30" ry="20" fill="#141414"/></g><path d="M40 24 Q50 18 62 19 Q76 18 86 24 L92 32 Q104 42 120 55 Q142 64 152 78 Q156 96 156 146 L42 146 Q36 126 35.5 108 Q34 92 35 84 Q36 74 39 68 Q38 46 40 24 Z" fill="#1e1e1c" filter="url(#bl3)"/><g filter="url(#bl2)"><ellipse cx="54" cy="40" rx="11" ry="17" fill="#6c6c66"/><ellipse cx="74" cy="34" rx="8" ry="9" fill="#56564f"/><ellipse cx="70" cy="60" rx="10" ry="7" fill="#3e3e3a"/><ellipse cx="74" cy="92" rx="14" ry="18" fill="#3c3c38"/><ellipse cx="114" cy="80" rx="16" ry="16" fill="#454540"/><ellipse cx="140" cy="86" rx="10" ry="16" fill="#3a3a36"/><ellipse cx="92" cy="126" rx="22" ry="12" fill="#2c2c2a"/></g><path d="M8.6 3.9 Q15 17 28 22 L39 23.5 L39 29 L26 27 Q10 21 8.6 3.9 Z" fill="url(#hn)"/><path d="M115.6 3.9 Q109 19 96 23.5 L84.5 25.5 L85 31 L97 28.5 Q113 23 115.6 3.9 Z" fill="url(#hn2)"/></svg>
<div style="position:absolute;left:17px;top:289px;white-space:nowrap;width:156px;text-align:center;font-family:'Liberation Serif',serif;font-weight:bold;font-size:17px;line-height:20px;color:#c8c8d8;letter-spacing:1.3px">Bullish</div>
<div style="position:absolute;left:15px;top:165px;width:160px;height:149px;border:1px solid #f0f0f0"></div>
<div style="position:absolute;left:601px;top:33px;width:731px;height:228px;background:#000"></div>
<div style="position:absolute;left:606px;top:38px;width:721px;height:218px;background:#ffffff"></div>
<div style="position:absolute;left:606px;top:38px;width:721px;height:2px;background:#ececec"></div>
<div style="position:absolute;left:606px;top:38px;width:2px;height:27px;background:#dcdcdc"></div>
<div style="position:absolute;left:608px;top:39px;white-space:nowrap;font-family:'Liberation Serif',serif;font-weight:bold;font-size:29px;line-height:32px;color:#000;transform:scaleX(1.0);transform-origin:0 0">The boring grind higher keeps paying with a 12 day</div>
<div style="position:absolute;left:608px;top:71px;white-space:nowrap;font-family:'Liberation Serif',serif;font-weight:bold;font-size:29px;line-height:32px;color:#000;transform:scaleX(1.0);transform-origin:0 0"><span style="display:inline-block;width:161.2px;color:#26a84c"><span style="display:inline-block;transform:scaleX(1.086);transform-origin:0 0">UPTREND</span></span><span style="display:inline-block;transform:scaleX(1.0136);transform-origin:0 0">on the SPX and Nasdaq</span></div>
<div style="position:absolute;left:608px;top:135px;white-space:nowrap;font-family:'Liberation Serif',serif;font-weight:bold;font-size:29px;line-height:32px;color:#000;transform:scaleX(1.019);transform-origin:0 0">Once again, picking the top is impossible- so STAY</div>
<div style="position:absolute;left:608px;top:167px;white-space:nowrap;font-family:'Liberation Serif',serif;font-weight:bold;font-size:29px;line-height:32px;color:#000;transform:scaleX(1.019);transform-origin:0 0">LONG vs your stops (from our Daily Focus List)</div>
<div style="position:absolute;left:608px;top:199px;white-space:nowrap;font-family:'Liberation Serif',serif;font-weight:bold;font-size:29px;line-height:32px;color:#000;transform:scaleX(1.007);transform-origin:0 0">We are extended, but can always become more extended</div>
<div style="position:absolute;left:835px;top:243px;width:244px;height:100px;background:#ffffff"></div>
<div style="position:absolute;left:839px;top:247px;width:236px;height:92px;border:3px solid #000;background:#fff"></div>
<div style="position:absolute;left:845px;top:252px;width:224px;height:81px;border:2px solid #000"></div>
<svg style="position:absolute;left:940px;top:266px" width="40" height="22" viewBox="0 0 40 22"><g fill="none" stroke="#3c9a3c" stroke-width="1" transform="translate(5,0)"><path d="M1 20 V8 H4 V18"/><path d="M5 18 V6 H8 V16"/><path d="M9 16 V4 H12 V14"/><path d="M13 14 V2"/></g><g fill="none" stroke="#cc3333" stroke-width="1"><path d="M24 2 V14 H27 V4"/><path d="M28 6 V16 H31 V8"/><path d="M32 10 V21 H35 V10"/></g></svg>
<div style="position:absolute;left:853px;top:286px;white-space:nowrap;font-family:'Liberation Mono',monospace;font-weight:bold;font-size:17.5px;line-height:22px;color:#1a1a1a;letter-spacing:0.35px;word-spacing:-5px;transform:scaleX(1.18);transform-origin:0 0">Fitzstock Charts</div>
<div style="position:absolute;left:894px;top:304px;width:118px;height:2px;background:#111"></div>
<div style="position:absolute;left:885px;top:309px;white-space:nowrap;font-size:15px;font-weight:bold;line-height:17px;color:#000">www.fitzstock.com</div>
<div style="position:absolute;left:1428px;top:63px;width:375px;height:64px;background:#ffffff"></div>
<div style="position:absolute;left:1433px;top:71px;width:364px;height:51px;background:#000"></div>
<div style="position:absolute;left:1435px;top:73px;width:360px;height:47px;border:1px solid #e8e8e8"></div>
<svg style="position:absolute;left:1437px;top:75px" width="357" height="44" viewBox="0 0 357 44"><defs><linearGradient id="f0" x1="0" y1="0" x2="0" y2="1"><stop offset="0" stop-color="#3a1200"/><stop offset="0.25" stop-color="#c06010"/><stop offset="0.45" stop-color="#ffb040"/><stop offset="0.62" stop-color="#c06010"/><stop offset="0.85" stop-color="#3a1200"/><stop offset="1" stop-color="#000"/></linearGradient><linearGradient id="f1" x1="0" y1="0" x2="0" y2="1"><stop offset="0" stop-color="#200800"/><stop offset="0.25" stop-color="#a04a08"/><stop offset="0.45" stop-color="#e08020"/><stop offset="0.62" stop-color="#a04a08"/><stop offset="0.85" stop-color="#200800"/><stop offset="1" stop-color="#000"/></linearGradient><linearGradient id="f2" x1="0" y1="0" x2="0" y2="1"><stop offset="0" stop-color="#100400"/><stop offset="0.25" stop-color="#803008"/><stop offset="0.45" stop-color="#c06010"/><stop offset="0.62" stop-color="#803008"/><stop offset="0.85" stop-color="#100400"/><stop offset="1" stop-color="#000"/></linearGradient><linearGradient id="f3" x1="0" y1="0" x2="0" y2="1"><stop offset="0" stop-color="#000000"/><stop offset="0.25" stop-color="#602000"/><stop offset="0.45" stop-color="#a04010"/><stop offset="0.62" stop-color="#602000"/><stop offset="0.85" stop-color="#000000"/><stop offset="1" stop-color="#000"/></linearGradient><linearGradient id="f4" x1="0" y1="0" x2="0" y2="1"><stop offset="0" stop-color="#401400"/><stop offset="0.25" stop-color="#d07018"/><stop offset="0.45" stop-color="#ffc060"/><stop offset="0.62" stop-color="#d07018"/><stop offset="0.85" stop-color="#401400"/><stop offset="1" stop-color="#000"/></linearGradient><linearGradient id="f5" x1="0" y1="0" x2="0" y2="1"><stop offset="0" stop-color="#080200"/><stop offset="0.25" stop-color="#502000"/><stop offset="0.45" stop-color="#902e08"/><stop offset="0.62" stop-color="#502000"/><stop offset="0.85" stop-color="#080200"/><stop offset="1" stop-color="#000"/></linearGradient><filter id="glow" x="-5%" y="-30%" width="110%" height="160%"><feGaussianBlur stdDeviation="0.8"/></filter></defs><rect width="357" height="44" fill="#1a0800"/><rect x="0" y="0" width="2" height="44" fill="url(#f1)" opacity="0.61"/><rect x="2" y="0" width="1" height="44" fill="url(#f0)" opacity="0.88"/><rect x="3" y="0" width="1" height="44" fill="url(#f2)" opacity="0.73"/><rect x="4" y="0" width="2" height="44" fill="url(#f0)" opacity="0.41"/><rect x="6" y="0" width="3" height="44" fill="url(#f0)" opacity="0.51"/><rect x="9" y="0" width="3" height="44" fill="url(#f0)" opacity="0.89"/><rect x="12" y="0" width="1" height="44" fill="url(#f1)" opacity="0.76"/><rect x="13" y="0" width="1" height="44" fill="url(#f4)" opacity="0.73"/><rect x="14" y="0" width="1" height="44" fill="url(#f1)" opacity="0.38"/><rect x="15" y="0" width="2" height="44" fill="url(#f2)" opacity="0.62"/><rect x="17" y="0" width="1" height="44" fill="url(#f4)" opacity="0.55"/><rect x="18" y="0" width="2" height="44" fill="url(#f0)" opacity="0.73"/><rect x="20" y="0" width="2" height="44" fill="url(#f2)" opacity="0.41"/><rect x="22" y="0" width="1" height="44" fill="url(#f4)" opacity="0.39"/><rect x="23" y="0" width="2" height="44" fill="url(#f3)" opacity="0.79"/><rect x="25" y="0" width="3" height="44" fill="url(#f2)" opacity="0.65"/><rect x="28" y="0" width="3" height="44" fill="url(#f2)" opacity="0.54"/><rect x="31" y="0" width="2" height="44" fill="url(#f5)" opacity="0.86"/><rect x="33" y="0" width="1" height="44" fill="url(#f4)" opacity="0.55"/><rect x="34" y="0" width="3" height="44" fill="url(#f2)" opacity="0.82"/><rect x="37" y="0" width="2" height="44" fill="url(#f4)" opacity="0.99"/><rect x="39" y="0" width="1" height="44" fill="url(#f4)" opacity="0.62"/><rect x="40" y="0" width="2" height="44" fill="url(#f1)" opacity="0.96"/><rect x="42" y="0" width="3" height="44" fill="url(#f0)" opacity="0.98"/><rect x="45" y="0" width="1" height="44" fill="url(#f4)" opacity="0.72"/><rect x="46" y="0" width="2" height="44" fill="url(#f2)" opacity="0.80"/><rect x="48" y="0" width="3" height="44" fill="url(#f4)" opacity="0.87"/><rect x="51" y="0" width="1" height="44" fill="url(#f0)" opacity="0.96"/><rect x="52" y="0" width="3" height="44" fill="url(#f5)" opacity="0.78"/><rect x="55" y="0" width="1" height="44" fill="url(#f5)" opacity="0.81"/><rect x="56" y="0" width="3" height="44" fill="url(#f2)" opacity="0.82"/><rect x="59" y="0" width="2" height="44" fill="url(#f0)" opacity="0.96"/><rect x="61" y="0" width="2" height="44" fill="url(#f1)" opacity="0.75"/><rect x="63" y="0" width="3" height="44" fill="url(#f0)" opacity="0.49"/><rect x="66" y="0" width="2" height="44" fill="url(#f1)" opacity="0.83"/><rect x="68" y="0" width="3" height="44" fill="url(#f3)" opacity="0.95"/><rect x="71" y="0" width="3" height="44" fill="url(#f0)" opacity="0.46"/><rect x="74" y="0" width="3" height="44" fill="url(#f4)" opacity="0.53"/><rect x="77" y="0" width="2" height="44" fill="url(#f3)" opacity="0.91"/><rect x="79" y="0" width="2" height="44" fill="url(#f5)" opacity="0.62"/><rect x="81" y="0" width="2" height="44" fill="url(#f5)" opacity="0.92"/><rect x="83" y="0" width="2" height="44" fill="url(#f1)" opacity="0.40"/><rect x="85" y="0" width="2" height="44" fill="url(#f1)" opacity="0.78"/><rect x="87" y="0" width="1" height="44" fill="url(#f3)" opacity="0.89"/><rect x="88" y="0" width="2" height="44" fill="url(#f2)" opacity="0.53"/><rect x="90" y="0" width="2" height="44" fill="url(#f3)" opacity="0.70"/><rect x="92" y="0" width="2" height="44" fill="url(#f1)" opacity="0.80"/><rect x="94" y="0" width="1" height="44" fill="url(#f3)" opacity="0.93"/><rect x="95" y="0" width="3" height="44" fill="url(#f3)" opacity="0.61"/><rect x="98" y="0" width="1" height="44" fill="url(#f3)" opacity="0.76"/><rect x="99" y="0" width="1" height="44" fill="url(#f1)" opacity="0.39"/><rect x="100" y="0" width="2" height="44" fill="url(#f3)" opacity="0.46"/><rect x="102" y="0" width="2" height="44" fill="url(#f4)" opacity="0.38"/><rect x="104" y="0" width="1" height="44" fill="url(#f4)" opacity="0.45"/><rect x="105" y="0" width="1" height="44" fill="url(#f2)" opacity="0.75"/><rect x="106" y="0" width="1" height="44" fill="url(#f1)" opacity="0.75"/><rect x="107" y="0" width="2" height="44" fill="url(#f5)" opacity="0.51"/><rect x="109" y="0" width="2" height="44" fill="url(#f4)" opacity="0.59"/><rect x="111" y="0" width="1" height="44" fill="url(#f0)" opacity="0.90"/><rect x="112" y="0" width="3" height="44" fill="url(#f3)" opacity="0.66"/><rect x="115" y="0" width="1" height="44" fill="url(#f1)" opacity="0.42"/><rect x="116" y="0" width="2" height="44" fill="url(#f5)" opacity="0.52"/><rect x="118" y="0" width="2" height="44" fill="url(#f4)" opacity="0.37"/><rect x="120" y="0" width="2" height="44" fill="url(#f1)" opacity="0.80"/><rect x="122" y="0" width="1" height="44" fill="url(#f4)" opacity="0.54"/><rect x="123" y="0" width="1" height="44" fill="url(#f5)" opacity="0.90"/><rect x="124" y="0" width="2" height="44" fill="url(#f1)" opacity="0.58"/><rect x="126" y="0" width="2" height="44" fill="url(#f4)" opacity="0.70"/><rect x="128" y="0" width="2" height="44" fill="url(#f5)" opacity="0.49"/><rect x="130" y="0" width="2" height="44" fill="url(#f1)" opacity="0.88"/><rect x="132" y="0" width="2" height="44" fill="url(#f1)" opacity="0.69"/><rect x="134" y="0" width="2" height="44" fill="url(#f5)" opacity="0.37"/><rect x="136" y="0" width="1" height="44" fill="url(#f2)" opacity="0.66"/><rect x="137" y="0" width="2" height="44" fill="url(#f5)" opacity="0.74"/><rect x="139" y="0" width="2" height="44" fill="url(#f3)" opacity="0.88"/><rect x="141" y="0" width="2" height="44" fill="url(#f2)" opacity="0.40"/><rect x="143" y="0" width="1" height="44" fill="url(#f1)" opacity="0.66"/><rect x="144" y="0" width="2" height="44" fill="url(#f1)" opacity="0.66"/><rect x="146" y="0" width="1" height="44" fill="url(#f3)" opacity="0.94"/><rect x="147" y="0" width="2" height="44" fill="url(#f5)" opacity="0.41"/><rect x="149" y="0" width="1" height="44" fill="url(#f3)" opacity="0.86"/><rect x="150" y="0" width="2" height="44" fill="url(#f3)" opacity="0.93"/><rect x="152" y="0" width="3" height="44" fill="url(#f5)" opacity="0.57"/><rect x="155" y="0" width="3" height="44" fill="url(#f3)" opacity="0.61"/><rect x="158" y="0" width="1" height="44" fill="url(#f5)" opacity="0.45"/><rect x="159" y="0" width="2" height="44" fill="url(#f0)" opacity="0.45"/><rect x="161" y="0" width="3" height="44" fill="url(#f5)" opacity="0.45"/><rect x="164" y="0" width="3" height="44" fill="url(#f5)" opacity="0.96"/><rect x="167" y="0" width="2" height="44" fill="url(#f4)" opacity="0.71"/><rect x="169" y="0" width="1" height="44" fill="url(#f0)" opacity="0.87"/><rect x="170" y="0" width="1" height="44" fill="url(#f4)" opacity="0.84"/><rect x="171" y="0" width="2" height="44" fill="url(#f3)" opacity="0.99"/><rect x="173" y="0" width="2" height="44" fill="url(#f1)" opacity="0.37"/><rect x="175" y="0" width="2" height="44" fill="url(#f2)" opacity="0.68"/><rect x="177" y="0" width="2" height="44" fill="url(#f2)" opacity="0.70"/><rect x="179" y="0" width="2" height="44" fill="url(#f0)" opacity="0.94"/><rect x="181" y="0" width="2" height="44" fill="url(#f3)" opacity="0.78"/><rect x="183" y="0" width="3" height="44" fill="url(#f4)" opacity="0.43"/><rect x="186" y="0" width="2" height="44" fill="url(#f4)" opacity="0.68"/><rect x="188" y="0" width="3" height="44" fill="url(#f1)" opacity="0.75"/><rect x="191" y="0" width="2" height="44" fill="url(#f1)" opacity="0.44"/><rect x="193" y="0" width="1" height="44" fill="url(#f4)" opacity="0.39"/><rect x="194" y="0" width="3" height="44" fill="url(#f0)" opacity="0.92"/><rect x="197" y="0" width="1" height="44" fill="url(#f1)" opacity="0.47"/><rect x="198" y="0" width="1" height="44" fill="url(#f0)" opacity="0.68"/><rect x="199" y="0" width="1" height="44" fill="url(#f0)" opacity="0.64"/><rect x="200" y="0" width="2" height="44" fill="url(#f5)" opacity="0.53"/><rect x="202" y="0" width="3" height="44" fill="url(#f4)" opacity="0.96"/><rect x="205" y="0" width="2" height="44" fill="url(#f4)" opacity="0.93"/><rect x="207" y="0" width="2" height="44" fill="url(#f3)" opacity="0.44"/><rect x="209" y="0" width="1" height="44" fill="url(#f3)" opacity="0.64"/><rect x="210" y="0" width="1" height="44" fill="url(#f5)" opacity="0.51"/><rect x="211" y="0" width="1" height="44" fill="url(#f1)" opacity="0.79"/><rect x="212" y="0" width="1" height="44" fill="url(#f1)" opacity="0.96"/><rect x="213" y="0" width="2" height="44" fill="url(#f1)" opacity="0.51"/><rect x="215" y="0" width="2" height="44" fill="url(#f3)" opacity="0.49"/><rect x="217" y="0" width="1" height="44" fill="url(#f3)" opacity="0.93"/><rect x="218" y="0" width="2" height="44" fill="url(#f5)" opacity="0.89"/><rect x="220" y="0" width="2" height="44" fill="url(#f5)" opacity="0.63"/><rect x="222" y="0" width="3" height="44" fill="url(#f2)" opacity="0.62"/><rect x="225" y="0" width="2" height="44" fill="url(#f2)" opacity="0.41"/><rect x="227" y="0" width="2" height="44" fill="url(#f0)" opacity="0.57"/><rect x="229" y="0" width="3" height="44" fill="url(#f3)" opacity="0.81"/><rect x="232" y="0" width="3" height="44" fill="url(#f2)" opacity="0.69"/><rect x="235" y="0" width="2" height="44" fill="url(#f4)" opacity="0.97"/><rect x="237" y="0" width="1" height="44" fill="url(#f1)" opacity="0.98"/><rect x="238" y="0" width="1" height="44" fill="url(#f0)" opacity="0.52"/><rect x="239" y="0" width="1" height="44" fill="url(#f1)" opacity="0.53"/><rect x="240" y="0" width="2" height="44" fill="url(#f3)" opacity="0.90"/><rect x="242" y="0" width="2" height="44" fill="url(#f3)" opacity="0.45"/><rect x="244" y="0" width="3" height="44" fill="url(#f5)" opacity="0.56"/><rect x="247" y="0" width="2" height="44" fill="url(#f0)" opacity="0.87"/><rect x="249" y="0" width="2" height="44" fill="url(#f3)" opacity="0.93"/><rect x="251" y="0" width="2" height="44" fill="url(#f0)" opacity="0.76"/><rect x="253" y="0" width="2" height="44" fill="url(#f0)" opacity="0.75"/><rect x="255" y="0" width="2" height="44" fill="url(#f0)" opacity="0.52"/><rect x="257" y="0" width="1" height="44" fill="url(#f3)" opacity="0.36"/><rect x="258" y="0" width="3" height="44" fill="url(#f2)" opacity="0.75"/><rect x="261" y="0" width="1" height="44" fill="url(#f4)" opacity="0.81"/><rect x="262" y="0" width="1" height="44" fill="url(#f1)" opacity="0.52"/><rect x="263" y="0" width="2" height="44" fill="url(#f1)" opacity="0.96"/><rect x="265" y="0" width="2" height="44" fill="url(#f4)" opacity="0.84"/><rect x="267" y="0" width="2" height="44" fill="url(#f3)" opacity="0.68"/><rect x="269" y="0" width="2" height="44" fill="url(#f2)" opacity="0.58"/><rect x="271" y="0" width="1" height="44" fill="url(#f2)" opacity="0.37"/><rect x="272" y="0" width="1" height="44" fill="url(#f5)" opacity="0.68"/><rect x="273" y="0" width="2" height="44" fill="url(#f4)" opacity="0.66"/><rect x="275" y="0" width="3" height="44" fill="url(#f0)" opacity="0.78"/><rect x="278" y="0" width="3" height="44" fill="url(#f5)" opacity="0.67"/><rect x="281" y="0" width="3" height="44" fill="url(#f4)" opacity="0.55"/><rect x="284" y="0" width="2" height="44" fill="url(#f1)" opacity="0.57"/><rect x="286" y="0" width="2" height="44" fill="url(#f3)" opacity="0.99"/><rect x="288" y="0" width="1" height="44" fill="url(#f1)" opacity="0.36"/><rect x="289" y="0" width="2" height="44" fill="url(#f3)" opacity="0.46"/><rect x="291" y="0" width="1" height="44" fill="url(#f5)" opacity="0.90"/><rect x="292" y="0" width="2" height="44" fill="url(#f4)" opacity="0.51"/><rect x="294" y="0" width="2" height="44" fill="url(#f0)" opacity="0.65"/><rect x="296" y="0" width="2" height="44" fill="url(#f2)" opacity="0.64"/><rect x="298" y="0" width="2" height="44" fill="url(#f2)" opacity="0.98"/><rect x="300" y="0" width="2" height="44" fill="url(#f1)" opacity="0.37"/><rect x="302" y="0" width="2" height="44" fill="url(#f1)" opacity="0.58"/><rect x="304" y="0" width="1" height="44" fill="url(#f2)" opacity="0.60"/><rect x="305" y="0" width="3" height="44" fill="url(#f2)" opacity="0.68"/><rect x="308" y="0" width="2" height="44" fill="url(#f1)" opacity="0.68"/><rect x="310" y="0" width="1" height="44" fill="url(#f0)" opacity="0.52"/><rect x="311" y="0" width="1" height="44" fill="url(#f1)" opacity="0.61"/><rect x="312" y="0" width="1" height="44" fill="url(#f3)" opacity="0.36"/><rect x="313" y="0" width="2" height="44" fill="url(#f5)" opacity="0.50"/><rect x="315" y="0" width="2" height="44" fill="url(#f5)" opacity="0.93"/><rect x="317" y="0" width="3" height="44" fill="url(#f2)" opacity="0.82"/><rect x="320" y="0" width="3" height="44" fill="url(#f1)" opacity="0.53"/><rect x="323" y="0" width="2" height="44" fill="url(#f0)" opacity="0.89"/><rect x="325" y="0" width="3" height="44" fill="url(#f5)" opacity="0.81"/><rect x="328" y="0" width="2" height="44" fill="url(#f4)" opacity="0.84"/><rect x="330" y="0" width="1" height="44" fill="url(#f5)" opacity="0.73"/><rect x="331" y="0" width="2" height="44" fill="url(#f0)" opacity="0.37"/><rect x="333" y="0" width="2" height="44" fill="url(#f5)" opacity="0.58"/><rect x="335" y="0" width="1" height="44" fill="url(#f3)" opacity="0.89"/><rect x="336" y="0" width="1" height="44" fill="url(#f5)" opacity="0.36"/><rect x="337" y="0" width="2" height="44" fill="url(#f3)" opacity="0.52"/><rect x="339" y="0" width="3" height="44" fill="url(#f0)" opacity="0.84"/><rect x="342" y="0" width="1" height="44" fill="url(#f5)" opacity="0.69"/><rect x="343" y="0" width="3" height="44" fill="url(#f2)" opacity="0.88"/><rect x="346" y="0" width="2" height="44" fill="url(#f1)" opacity="0.82"/><rect x="348" y="0" width="2" height="44" fill="url(#f1)" opacity="0.83"/><rect x="350" y="0" width="3" height="44" fill="url(#f3)" opacity="0.90"/><rect x="353" y="0" width="1" height="44" fill="url(#f3)" opacity="0.94"/><rect x="354" y="0" width="2" height="44" fill="url(#f0)" opacity="0.75"/><rect x="356" y="0" width="2" height="44" fill="url(#f0)" opacity="0.74"/><g font-family="Liberation Sans, sans-serif" font-weight="bold" font-size="24"><g filter="url(#glow)" fill="none" stroke="#ffb848" stroke-width="1.8" opacity="0.9"><text x="5" y="34.5" textLength="208" lengthAdjust="spacingAndGlyphs" transform="scale(1,0.98)">BREAK</text><text x="237" y="34.5" textLength="117" lengthAdjust="spacingAndGlyphs" transform="scale(1,0.98)">OUT</text></g><g fill="#050200" stroke="#ffe0a0" stroke-width="0.7"><text x="5" y="34.5" textLength="208" lengthAdjust="spacingAndGlyphs" transform="scale(1,0.98)">BREAK</text><text x="237" y="34.5" textLength="117" lengthAdjust="spacingAndGlyphs" transform="scale(1,0.98)">OUT</text></g></g></svg>
</body></html>
